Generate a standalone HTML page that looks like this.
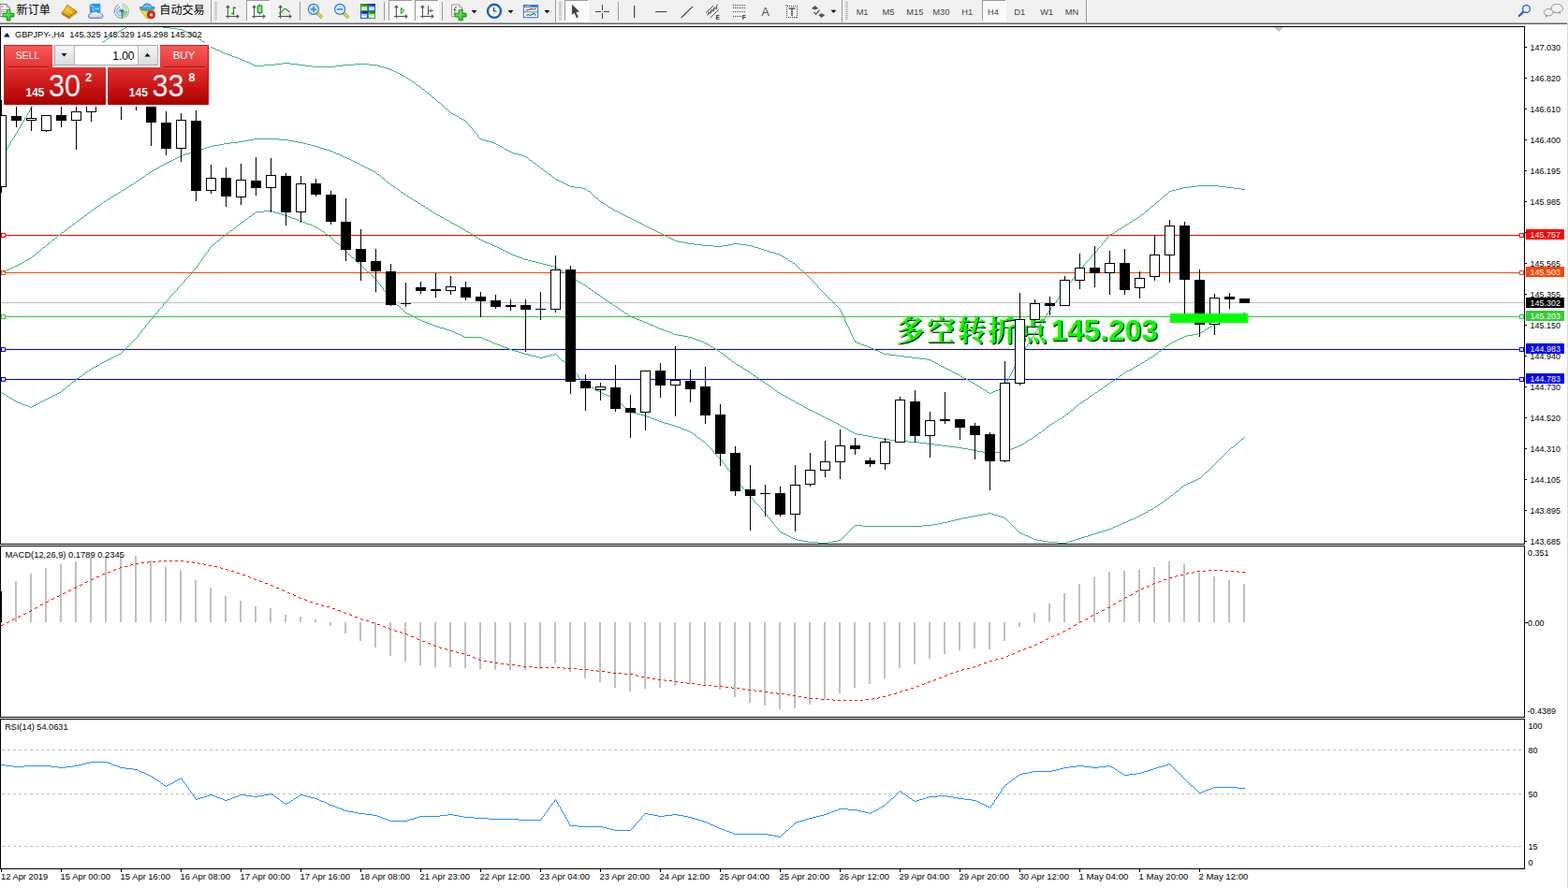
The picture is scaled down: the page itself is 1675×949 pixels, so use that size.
<!DOCTYPE html>
<html><head><meta charset="utf-8"><title>GBPJPY H4</title>
<style>
html,body{margin:0;padding:0;background:#fff}
body{width:1675px;height:949px;overflow:hidden;position:relative;font-family:"Liberation Sans",sans-serif}
svg{position:absolute;left:0;top:0;display:block}
text{font-family:"Liberation Sans",sans-serif}
.ax{font-size:9px;fill:#000}
.tag{font-size:9px;fill:#fff}
.tf{font-size:9.3px;fill:#444}
</style></head><body>
<svg width="1675" height="949" viewBox="0 0 1675 949">
<defs>
<clipPath id="cm"><rect x="1" y="29" width="1627" height="552"/></clipPath>
<clipPath id="cc"><rect x="1" y="114" width="1627" height="467"/></clipPath>
<linearGradient id="gSell" x1="0" y1="0" x2="0" y2="1"><stop offset="0" stop-color="#f85a5a"/><stop offset="1" stop-color="#e43434"/></linearGradient>
<linearGradient id="gBig" x1="0" y1="0" x2="0" y2="1"><stop offset="0" stop-color="#e23030"/><stop offset="0.55" stop-color="#c81414"/><stop offset="1" stop-color="#a80000"/></linearGradient>
<linearGradient id="gBtn" x1="0" y1="0" x2="0" y2="1"><stop offset="0" stop-color="#f4f4f4"/><stop offset="1" stop-color="#dcdcdc"/></linearGradient>
</defs>
<rect x="0" y="0" width="1675" height="949" fill="#fff"/>

<g shape-rendering="crispEdges">
<rect x="0" y="0" width="1675" height="24" fill="#f0f0f0"/>
<rect x="0" y="24" width="1674" height="1" fill="#a8a8a8"/>
<rect x="0" y="25" width="1674" height="1" fill="#6a6a6a"/>
<rect x="1674" y="24" width="1" height="925" fill="#dcdcdc"/>
</g>
<g clip-path="url(#cm)">
<text x="958.35" y="365.30" font-size="30.4px" font-weight="bold" fill="#000" letter-spacing="2.3" style="font-family:'Liberation Serif','Noto Serif CJK SC',serif">多空转折点</text>
<text x="1123.50" y="364.60" font-size="32px" font-weight="bold" fill="#000" textLength="114.4" lengthAdjust="spacingAndGlyphs">145.203</text>
<text x="957.25" y="364.20" font-size="30.4px" font-weight="bold" fill="#00ff00" letter-spacing="2.3" style="font-family:'Liberation Serif','Noto Serif CJK SC',serif">多空转折点</text>
<text x="1122.40" y="363.50" font-size="32px" font-weight="bold" fill="#00ff00" textLength="114.4" lengthAdjust="spacingAndGlyphs">145.203</text>
<g shape-rendering="crispEdges">
<rect x="1" y="251" width="1627" height="1" fill="#ff0000"/>
<rect x="1.5" y="249.5" width="4" height="4" fill="#fff" stroke="#ff0000" stroke-width="1"/>
<rect x="1623.5" y="249.5" width="4" height="4" fill="#fff" stroke="#ff0000" stroke-width="1"/>
<rect x="1" y="291" width="1627" height="1" fill="#ff4500"/>
<rect x="1.5" y="289.5" width="4" height="4" fill="#fff" stroke="#ff4500" stroke-width="1"/>
<rect x="1623.5" y="289.5" width="4" height="4" fill="#fff" stroke="#ff4500" stroke-width="1"/>
<rect x="1" y="323" width="1627" height="1" fill="#c0c0c0"/>
<rect x="1" y="338" width="1627" height="1" fill="#32cd32"/>
<rect x="1.5" y="336.5" width="4" height="4" fill="#fff" stroke="#32cd32" stroke-width="1"/>
<rect x="1623.5" y="336.5" width="4" height="4" fill="#fff" stroke="#32cd32" stroke-width="1"/>
<rect x="1" y="373" width="1627" height="1" fill="#0000ff"/>
<rect x="1.5" y="371.5" width="4" height="4" fill="#fff" stroke="#0000ff" stroke-width="1"/>
<rect x="1623.5" y="371.5" width="4" height="4" fill="#fff" stroke="#0000ff" stroke-width="1"/>
<rect x="1" y="405" width="1627" height="1" fill="#0000ff"/>
<rect x="1.5" y="403.5" width="4" height="4" fill="#fff" stroke="#0000ff" stroke-width="1"/>
<rect x="1623.5" y="403.5" width="4" height="4" fill="#fff" stroke="#0000ff" stroke-width="1"/>
</g>
<path d="M134 29h1v1h-1zM174 29h8v1h-8zM132 30h2v1h-2zM182 30h8v1h-8zM130 31h2v1h-2zM190 31h5v1h-5zM129 32h1v1h-1zM195 32h2v1h-2zM127 33h2v1h-2zM197 33h2v1h-2zM126 34h1v1h-1zM199 34h2v1h-2zM124 35h2v1h-2zM201 35h2v1h-2zM122 36h2v1h-2zM203 36h2v1h-2zM121 37h1v1h-1zM205 37h2v1h-2zM119 38h2v1h-2zM207 38h2v1h-2zM118 39h1v1h-1zM209 39h1v1h-1zM116 40h2v1h-2zM210 40h2v1h-2zM114 41h2v1h-2zM212 41h1v1h-1zM113 42h1v1h-1zM213 42h2v1h-2zM112 43h1v1h-1zM215 43h1v1h-1zM110 44h2v1h-2zM216 44h2v1h-2zM109 45h1v1h-1zM218 45h1v1h-1zM108 46h1v1h-1zM219 46h1v1h-1zM106 47h2v1h-2zM220 47h2v1h-2zM105 48h1v1h-1zM222 48h1v1h-1zM104 49h1v1h-1zM223 49h2v1h-2zM102 50h2v1h-2zM225 50h2v1h-2zM101 51h1v1h-1zM227 51h2v1h-2zM100 52h1v1h-1zM229 52h2v1h-2zM98 53h2v1h-2zM231 53h3v1h-3zM97 54h1v1h-1zM234 54h2v1h-2zM96 55h1v1h-1zM236 55h2v1h-2zM94 56h2v1h-2zM238 56h2v1h-2zM93 57h1v1h-1zM240 57h3v1h-3zM92 58h1v1h-1zM243 58h3v1h-3zM90 59h2v1h-2zM246 59h2v1h-2zM89 60h1v1h-1zM248 60h3v1h-3zM88 61h1v1h-1zM251 61h3v1h-3zM86 62h2v1h-2zM254 62h2v1h-2zM85 63h1v1h-1zM256 63h3v1h-3zM84 64h1v1h-1zM259 64h2v1h-2zM82 65h2v1h-2zM261 65h2v1h-2zM81 66h1v1h-1zM263 66h3v1h-3zM80 67h1v1h-1zM266 67h2v1h-2zM302 67h8v1h-8zM79 68h1v1h-1zM268 68h2v1h-2zM294 68h8v1h-8zM310 68h8v1h-8zM378 68h16v1h-16zM78 69h1v1h-1zM270 69h2v1h-2zM282 69h12v1h-12zM318 69h8v1h-8zM366 69h12v1h-12zM394 69h9v1h-9zM76 70h2v1h-2zM272 70h10v1h-10zM326 70h8v1h-8zM358 70h8v1h-8zM403 70h3v1h-3zM75 71h1v1h-1zM334 71h24v1h-24zM406 71h4v1h-4zM74 72h1v1h-1zM410 72h3v1h-3zM73 73h1v1h-1zM413 73h3v1h-3zM72 74h1v1h-1zM416 74h3v1h-3zM71 75h1v1h-1zM419 75h2v1h-2zM70 76h1v1h-1zM421 76h2v1h-2zM68 77h2v1h-2zM423 77h2v1h-2zM67 78h1v1h-1zM425 78h2v1h-2zM66 79h1v1h-1zM427 79h2v1h-2zM65 80h1v1h-1zM429 80h2v1h-2zM64 81h1v1h-1zM431 81h2v1h-2zM63 82h1v1h-1zM433 82h1v1h-1zM62 83h1v1h-1zM434 83h2v1h-2zM61 84h1v1h-1zM436 84h1v1h-1zM60 85h1v1h-1zM437 85h2v1h-2zM59 86h1v1h-1zM439 86h1v1h-1zM58 87h1v1h-1zM440 87h2v1h-2zM57 88h1v1h-1zM442 88h1v1h-1zM56 89h1v1h-1zM443 89h1v1h-1zM55 90h1v1h-1zM444 90h2v1h-2zM54 91h1v1h-1zM446 91h1v1h-1zM53 92h1v1h-1zM447 92h2v1h-2zM52 93h1v1h-1zM449 93h1v1h-1zM51 94h1v1h-1zM450 94h1v1h-1zM50 95h1v1h-1zM451 95h2v1h-2zM49 96h1v1h-1zM453 96h1v1h-1zM48 97h1v1h-1zM454 97h1v1h-1zM47 98h1v1h-1zM455 98h1v1h-1zM46 99h1v2h-1zM456 99h2v1h-2zM458 100h1v1h-1zM45 101h1v1h-1zM459 101h1v1h-1zM44 102h1v1h-1zM460 102h1v1h-1zM43 103h1v1h-1zM461 103h1v1h-1zM42 104h1v1h-1zM462 104h2v1h-2zM41 105h1v2h-1zM464 105h1v1h-1zM465 106h1v1h-1zM40 107h1v1h-1zM466 107h1v1h-1zM39 108h1v1h-1zM467 108h1v1h-1zM38 109h1v1h-1zM468 109h2v1h-2zM37 110h1v1h-1zM470 110h1v1h-1zM36 111h1v2h-1zM471 111h1v1h-1zM472 112h1v1h-1zM35 113h1v1h-1zM473 113h1v1h-1zM34 114h1v1h-1zM474 114h1v1h-1zM33 115h1v1h-1zM475 115h1v1h-1zM32 116h1v2h-1zM476 116h2v1h-2zM478 117h1v1h-1zM31 118h1v2h-1zM479 118h1v1h-1zM480 119h1v1h-1zM30 120h1v1h-1zM481 120h1v1h-1zM29 121h1v2h-1zM482 121h2v1h-2zM484 122h2v1h-2zM28 123h1v2h-1zM486 123h2v1h-2zM488 124h2v1h-2zM27 125h1v1h-1zM490 125h1v1h-1zM26 126h1v2h-1zM491 126h2v1h-2zM493 127h2v1h-2zM25 128h1v2h-1zM495 128h2v1h-2zM497 129h1v1h-1zM24 130h1v2h-1zM498 130h1v1h-1zM499 131h1v1h-1zM23 132h1v1h-1zM500 132h1v2h-1zM22 133h1v2h-1zM501 134h1v1h-1zM21 135h1v2h-1zM502 135h1v1h-1zM503 136h1v1h-1zM20 137h1v1h-1zM504 137h1v1h-1zM19 138h1v2h-1zM505 138h1v2h-1zM18 140h1v2h-1zM506 140h1v1h-1zM507 141h1v1h-1zM17 142h1v1h-1zM508 142h1v1h-1zM16 143h1v2h-1zM509 143h1v1h-1zM510 144h1v2h-1zM15 145h1v2h-1zM511 146h1v1h-1zM14 147h1v1h-1zM512 147h1v1h-1zM13 148h1v2h-1zM513 148h2v1h-2zM515 149h3v1h-3zM12 150h1v1h-1zM518 150h4v1h-4zM11 151h1v2h-1zM522 151h3v1h-3zM525 152h3v1h-3zM10 153h1v2h-1zM528 153h2v1h-2zM530 154h2v1h-2zM9 155h1v1h-1zM532 155h2v1h-2zM8 156h1v2h-1zM534 156h2v1h-2zM536 157h2v1h-2zM7 158h1v2h-1zM538 158h1v1h-1zM539 159h2v1h-2zM6 160h1v1h-1zM541 160h2v1h-2zM5 161h1v2h-1zM543 161h2v1h-2zM545 162h2v1h-2zM4 163h1v1h-1zM547 163h3v1h-3zM3 164h1v2h-1zM550 164h4v1h-4zM554 165h3v1h-3zM2 166h1v2h-1zM557 166h3v1h-3zM560 167h2v1h-2zM1 168h1v1h-1zM562 168h2v1h-2zM564 169h1v1h-1zM565 170h1v1h-1zM566 171h2v1h-2zM568 172h1v1h-1zM569 173h1v1h-1zM570 174h2v1h-2zM572 175h1v1h-1zM573 176h1v1h-1zM574 177h2v1h-2zM576 178h1v1h-1zM577 179h1v1h-1zM578 180h2v1h-2zM580 181h1v1h-1zM581 182h1v1h-1zM582 183h2v1h-2zM584 184h1v1h-1zM585 185h1v1h-1zM586 186h2v1h-2zM588 187h1v1h-1zM589 188h1v1h-1zM590 189h2v1h-2zM592 190h1v1h-1zM593 191h2v1h-2zM595 192h2v1h-2zM597 193h2v1h-2zM599 194h2v1h-2zM601 195h2v1h-2zM603 196h2v1h-2zM605 197h2v1h-2zM607 198h2v1h-2zM1278 198h24v1h-24zM609 199h5v1h-5zM1270 199h8v1h-8zM1302 199h8v1h-8zM614 200h8v1h-8zM1264 200h6v1h-6zM1310 200h8v1h-8zM622 201h4v1h-4zM1260 201h4v1h-4zM1318 201h8v1h-8zM626 202h1v1h-1zM1256 202h4v1h-4zM1326 202h4v1h-4zM627 203h1v1h-1zM1252 203h4v1h-4zM628 204h2v1h-2zM1249 204h3v1h-3zM630 205h1v1h-1zM1248 205h1v1h-1zM631 206h1v1h-1zM1247 206h1v1h-1zM632 207h1v1h-1zM1246 207h1v1h-1zM633 208h1v1h-1zM1244 208h2v1h-2zM634 209h1v1h-1zM1243 209h1v1h-1zM635 210h1v1h-1zM1242 210h1v1h-1zM636 211h2v1h-2zM1241 211h1v1h-1zM638 212h1v1h-1zM1240 212h1v1h-1zM639 213h1v1h-1zM1239 213h1v1h-1zM640 214h1v1h-1zM1238 214h1v1h-1zM641 215h1v1h-1zM1236 215h2v1h-2zM642 216h2v1h-2zM1235 216h1v1h-1zM644 217h2v1h-2zM1234 217h1v1h-1zM646 218h1v1h-1zM1233 218h1v1h-1zM647 219h2v1h-2zM1232 219h1v1h-1zM649 220h1v1h-1zM1230 220h2v1h-2zM650 221h2v1h-2zM1229 221h1v1h-1zM652 222h2v1h-2zM1228 222h1v1h-1zM654 223h1v1h-1zM1227 223h1v1h-1zM655 224h2v1h-2zM1226 224h1v1h-1zM657 225h2v1h-2zM1224 225h2v1h-2zM659 226h2v1h-2zM1223 226h1v1h-1zM661 227h2v1h-2zM1222 227h1v1h-1zM663 228h2v1h-2zM1221 228h1v1h-1zM665 229h2v1h-2zM1219 229h2v1h-2zM667 230h2v1h-2zM1218 230h1v1h-1zM669 231h2v1h-2zM1217 231h1v1h-1zM671 232h2v1h-2zM1215 232h2v1h-2zM673 233h2v1h-2zM1214 233h1v1h-1zM675 234h2v1h-2zM1212 234h2v1h-2zM677 235h2v1h-2zM1210 235h2v1h-2zM679 236h2v1h-2zM1209 236h1v1h-1zM681 237h2v1h-2zM1207 237h2v1h-2zM683 238h2v1h-2zM1206 238h1v1h-1zM685 239h2v1h-2zM1204 239h2v1h-2zM687 240h2v1h-2zM1202 240h2v1h-2zM689 241h2v1h-2zM1201 241h1v1h-1zM691 242h2v1h-2zM1199 242h2v1h-2zM693 243h2v1h-2zM1198 243h1v1h-1zM695 244h2v1h-2zM1196 244h2v1h-2zM697 245h2v1h-2zM1194 245h2v1h-2zM699 246h2v1h-2zM1193 246h1v1h-1zM701 247h2v1h-2zM1191 247h2v1h-2zM703 248h2v1h-2zM1190 248h1v1h-1zM705 249h2v1h-2zM1188 249h2v1h-2zM707 250h2v1h-2zM1186 250h2v1h-2zM709 251h2v1h-2zM1185 251h1v1h-1zM711 252h2v1h-2zM1184 252h1v1h-1zM713 253h2v1h-2zM1183 253h1v1h-1zM715 254h2v1h-2zM1182 254h1v2h-1zM717 255h2v1h-2zM719 256h2v1h-2zM1181 256h1v1h-1zM721 257h3v1h-3zM1180 257h1v1h-1zM724 258h6v1h-6zM1179 258h1v1h-1zM730 259h5v1h-5zM1178 259h1v1h-1zM735 260h7v1h-7zM783 260h7v1h-7zM1177 260h1v2h-1zM742 261h8v1h-8zM778 261h5v1h-5zM790 261h8v1h-8zM750 262h12v1h-12zM772 262h6v1h-6zM798 262h5v1h-5zM1176 262h1v1h-1zM762 263h10v1h-10zM803 263h3v1h-3zM1175 263h1v1h-1zM806 264h4v1h-4zM1174 264h1v1h-1zM810 265h3v1h-3zM1173 265h1v1h-1zM813 266h3v1h-3zM1172 266h1v2h-1zM816 267h3v1h-3zM819 268h3v1h-3zM1171 268h1v1h-1zM822 269h4v1h-4zM1170 269h1v1h-1zM826 270h3v1h-3zM1169 270h1v1h-1zM829 271h3v1h-3zM1168 271h1v1h-1zM832 272h2v1h-2zM1167 272h1v1h-1zM834 273h2v1h-2zM1166 273h1v1h-1zM836 274h2v1h-2zM1165 274h1v2h-1zM838 275h1v1h-1zM839 276h2v1h-2zM1164 276h1v1h-1zM841 277h1v1h-1zM1163 277h1v1h-1zM842 278h2v1h-2zM1162 278h1v1h-1zM844 279h2v1h-2zM1161 279h1v1h-1zM846 280h1v1h-1zM1160 280h1v1h-1zM847 281h2v1h-2zM1159 281h1v1h-1zM849 282h1v1h-1zM1158 282h1v1h-1zM850 283h1v1h-1zM1157 283h1v2h-1zM851 284h1v1h-1zM852 285h1v1h-1zM1156 285h1v1h-1zM853 286h1v1h-1zM1155 286h1v1h-1zM854 287h1v1h-1zM1154 287h1v1h-1zM855 288h1v1h-1zM1153 288h1v1h-1zM856 289h2v1h-2zM1152 289h1v1h-1zM858 290h1v1h-1zM1151 290h1v2h-1zM859 291h1v1h-1zM860 292h1v1h-1zM1150 292h1v1h-1zM861 293h1v1h-1zM1149 293h1v1h-1zM862 294h1v1h-1zM1148 294h1v2h-1zM863 295h1v1h-1zM864 296h1v1h-1zM1147 296h1v1h-1zM865 297h1v1h-1zM1146 297h1v1h-1zM866 298h1v1h-1zM1145 298h1v2h-1zM867 299h1v1h-1zM868 300h1v1h-1zM1144 300h1v1h-1zM869 301h1v1h-1zM1143 301h1v1h-1zM870 302h1v1h-1zM1142 302h1v2h-1zM871 303h1v1h-1zM872 304h1v1h-1zM1141 304h1v1h-1zM873 305h1v2h-1zM1140 305h1v1h-1zM1139 306h1v2h-1zM874 307h1v1h-1zM875 308h1v1h-1zM1138 308h1v1h-1zM876 309h1v1h-1zM1137 309h1v1h-1zM877 310h1v1h-1zM1136 310h1v2h-1zM878 311h1v1h-1zM879 312h1v1h-1zM1135 312h1v1h-1zM880 313h1v1h-1zM1134 313h1v1h-1zM881 314h1v1h-1zM1133 314h1v2h-1zM882 315h1v1h-1zM883 316h1v1h-1zM1132 316h1v1h-1zM884 317h1v1h-1zM1131 317h1v1h-1zM885 318h1v1h-1zM1130 318h1v2h-1zM886 319h1v1h-1zM887 320h1v1h-1zM1129 320h1v1h-1zM888 321h1v1h-1zM1128 321h1v2h-1zM889 322h1v1h-1zM890 323h1v1h-1zM1127 323h1v1h-1zM891 324h1v1h-1zM1126 324h1v1h-1zM892 325h1v1h-1zM1125 325h1v2h-1zM893 326h1v1h-1zM894 327h1v1h-1zM1124 327h1v1h-1zM895 328h1v1h-1zM1123 328h1v1h-1zM896 329h1v1h-1zM1122 329h1v2h-1zM897 330h1v2h-1zM1121 331h1v1h-1zM898 332h1v2h-1zM1120 332h1v2h-1zM899 334h1v2h-1zM1119 334h1v1h-1zM1118 335h1v2h-1zM900 336h1v2h-1zM1117 337h1v2h-1zM901 338h1v2h-1zM1116 339h1v1h-1zM902 340h1v3h-1zM1115 340h1v2h-1zM1114 342h1v1h-1zM903 343h1v2h-1zM1113 343h1v2h-1zM904 345h1v2h-1zM1112 345h1v1h-1zM1111 346h1v2h-1zM905 347h1v2h-1zM1110 348h1v1h-1zM906 349h1v2h-1zM1109 349h1v2h-1zM907 351h1v2h-1zM1108 351h1v2h-1zM908 353h1v3h-1zM1107 353h1v1h-1zM1106 354h1v2h-1zM909 356h1v2h-1zM1105 356h1v1h-1zM1104 357h1v2h-1zM910 358h1v2h-1zM1103 359h1v1h-1zM911 360h1v2h-1zM1102 360h1v2h-1zM912 362h1v2h-1zM1101 362h1v2h-1zM913 364h1v2h-1zM1100 364h1v1h-1zM914 365h1v1h-1zM1099 365h1v2h-1zM915 366h3v1h-3zM918 367h2v1h-2zM1098 367h1v1h-1zM920 368h3v1h-3zM1097 368h1v2h-1zM923 369h3v1h-3zM926 370h2v1h-2zM1096 370h1v1h-1zM928 371h3v1h-3zM1095 371h1v2h-1zM931 372h2v1h-2zM933 373h2v1h-2zM1094 373h1v1h-1zM935 374h3v1h-3zM1093 374h1v2h-1zM938 375h2v1h-2zM940 376h2v1h-2zM1092 376h1v2h-1zM942 377h2v1h-2zM944 378h6v1h-6zM1091 378h1v1h-1zM950 379h8v1h-8zM1090 379h1v2h-1zM958 380h8v1h-8zM966 381h8v1h-8zM1089 381h1v1h-1zM974 382h8v1h-8zM1088 382h1v2h-1zM982 383h8v1h-8zM990 384h4v1h-4zM1087 384h1v2h-1zM994 385h2v1h-2zM996 386h2v1h-2zM1086 386h1v2h-1zM998 387h2v1h-2zM1000 388h2v1h-2zM1085 388h1v2h-1zM1002 389h1v1h-1zM1003 390h2v1h-2zM1084 390h1v2h-1zM1005 391h2v1h-2zM1007 392h2v1h-2zM1083 392h1v2h-1zM1009 393h2v1h-2zM1011 394h2v1h-2zM1082 394h1v2h-1zM1013 395h2v1h-2zM1015 396h2v1h-2zM1081 396h1v2h-1zM1017 397h2v1h-2zM1019 398h2v1h-2zM1080 398h1v2h-1zM1021 399h2v1h-2zM1023 400h2v1h-2zM1079 400h1v2h-1zM1025 401h1v1h-1zM1026 402h2v1h-2zM1078 402h1v2h-1zM1028 403h2v1h-2zM1030 404h2v1h-2zM1077 404h1v2h-1zM1032 405h2v1h-2zM1034 406h1v1h-1zM1076 406h1v2h-1zM1035 407h2v1h-2zM1037 408h2v1h-2zM1075 408h1v2h-1zM1039 409h2v1h-2zM1041 410h1v1h-1zM1074 410h1v2h-1zM1042 411h2v1h-2zM1044 412h2v1h-2zM1073 412h1v2h-1zM1046 413h1v1h-1zM1072 413h1v1h-1zM1047 414h2v1h-2zM1070 414h2v1h-2zM1049 415h1v1h-1zM1068 415h2v1h-2zM1050 416h2v1h-2zM1066 416h2v1h-2zM1052 417h2v1h-2zM1063 417h3v1h-3zM1054 418h1v1h-1zM1061 418h2v1h-2zM1055 419h2v1h-2zM1059 419h2v1h-2zM1057 420h2v1h-2z" fill="#3cb371" shape-rendering="crispEdges"/>
<path d="M271 148h27v1h-27zM266 149h5v1h-5zM298 149h10v1h-10zM260 150h6v1h-6zM308 150h6v1h-6zM254 151h6v1h-6zM314 151h5v1h-5zM246 152h8v1h-8zM319 152h5v1h-5zM239 153h7v1h-7zM324 153h4v1h-4zM234 154h5v1h-5zM328 154h4v1h-4zM228 155h6v1h-6zM332 155h4v1h-4zM224 156h4v1h-4zM336 156h3v1h-3zM221 157h3v1h-3zM339 157h3v1h-3zM218 158h3v1h-3zM342 158h4v1h-4zM214 159h4v1h-4zM346 159h3v1h-3zM211 160h3v1h-3zM349 160h3v1h-3zM208 161h3v1h-3zM352 161h3v1h-3zM205 162h3v1h-3zM355 162h2v1h-2zM202 163h3v1h-3zM357 163h2v1h-2zM198 164h4v1h-4zM359 164h3v1h-3zM195 165h3v1h-3zM362 165h2v1h-2zM193 166h2v1h-2zM364 166h2v1h-2zM191 167h2v1h-2zM366 167h2v1h-2zM189 168h2v1h-2zM368 168h3v1h-3zM187 169h2v1h-2zM371 169h2v1h-2zM185 170h2v1h-2zM373 170h2v1h-2zM183 171h2v1h-2zM375 171h2v1h-2zM181 172h2v1h-2zM377 172h2v1h-2zM179 173h2v1h-2zM379 173h2v1h-2zM177 174h2v1h-2zM381 174h2v1h-2zM175 175h2v1h-2zM383 175h2v1h-2zM173 176h2v1h-2zM385 176h2v1h-2zM171 177h2v1h-2zM387 177h2v1h-2zM170 178h1v1h-1zM389 178h2v1h-2zM168 179h2v1h-2zM391 179h2v1h-2zM166 180h2v1h-2zM393 180h2v1h-2zM164 181h2v1h-2zM395 181h2v1h-2zM162 182h2v1h-2zM397 182h2v1h-2zM161 183h1v1h-1zM399 183h2v1h-2zM159 184h2v1h-2zM401 184h1v1h-1zM158 185h1v1h-1zM402 185h1v1h-1zM156 186h2v1h-2zM403 186h2v1h-2zM155 187h1v1h-1zM405 187h1v1h-1zM154 188h1v1h-1zM406 188h1v1h-1zM152 189h2v1h-2zM407 189h1v1h-1zM151 190h1v1h-1zM408 190h2v1h-2zM149 191h2v1h-2zM410 191h1v1h-1zM148 192h1v1h-1zM411 192h1v1h-1zM146 193h2v1h-2zM412 193h1v1h-1zM145 194h1v1h-1zM413 194h1v1h-1zM143 195h2v1h-2zM414 195h2v1h-2zM142 196h1v1h-1zM416 196h1v1h-1zM140 197h2v1h-2zM417 197h1v1h-1zM138 198h2v1h-2zM418 198h2v1h-2zM137 199h1v1h-1zM420 199h1v1h-1zM135 200h2v1h-2zM421 200h2v1h-2zM134 201h1v1h-1zM423 201h1v1h-1zM132 202h2v1h-2zM424 202h2v1h-2zM130 203h2v1h-2zM426 203h1v1h-1zM129 204h1v1h-1zM427 204h1v1h-1zM127 205h2v1h-2zM428 205h2v1h-2zM126 206h1v1h-1zM430 206h1v1h-1zM124 207h2v1h-2zM431 207h2v1h-2zM122 208h2v1h-2zM433 208h1v1h-1zM121 209h1v1h-1zM434 209h2v1h-2zM119 210h2v1h-2zM436 210h2v1h-2zM118 211h1v1h-1zM438 211h1v1h-1zM116 212h2v1h-2zM439 212h2v1h-2zM114 213h2v1h-2zM441 213h1v1h-1zM113 214h1v1h-1zM442 214h2v1h-2zM111 215h2v1h-2zM444 215h2v1h-2zM110 216h1v1h-1zM446 216h1v1h-1zM108 217h2v1h-2zM447 217h2v1h-2zM107 218h1v1h-1zM449 218h1v1h-1zM106 219h1v1h-1zM450 219h2v1h-2zM104 220h2v1h-2zM452 220h2v1h-2zM103 221h1v1h-1zM454 221h1v1h-1zM101 222h2v1h-2zM455 222h2v1h-2zM100 223h1v1h-1zM457 223h1v1h-1zM98 224h2v1h-2zM458 224h2v1h-2zM97 225h1v1h-1zM460 225h2v1h-2zM96 226h1v1h-1zM462 226h1v1h-1zM94 227h2v1h-2zM463 227h2v1h-2zM93 228h1v1h-1zM465 228h1v1h-1zM92 229h1v1h-1zM466 229h2v1h-2zM90 230h2v1h-2zM468 230h2v1h-2zM89 231h1v1h-1zM470 231h2v1h-2zM88 232h1v1h-1zM472 232h2v1h-2zM86 233h2v1h-2zM474 233h1v1h-1zM85 234h1v1h-1zM475 234h2v1h-2zM84 235h1v1h-1zM477 235h2v1h-2zM82 236h2v1h-2zM479 236h2v1h-2zM81 237h1v1h-1zM481 237h1v1h-1zM80 238h1v1h-1zM482 238h2v1h-2zM78 239h2v1h-2zM484 239h2v1h-2zM77 240h1v1h-1zM486 240h2v1h-2zM76 241h1v1h-1zM488 241h2v1h-2zM74 242h2v1h-2zM490 242h1v1h-1zM73 243h1v1h-1zM491 243h2v1h-2zM72 244h1v1h-1zM493 244h2v1h-2zM70 245h2v1h-2zM495 245h2v1h-2zM69 246h1v1h-1zM497 246h1v1h-1zM68 247h1v1h-1zM498 247h2v1h-2zM66 248h2v1h-2zM500 248h2v1h-2zM65 249h1v1h-1zM502 249h1v1h-1zM64 250h1v1h-1zM503 250h2v1h-2zM62 251h2v1h-2zM505 251h1v1h-1zM61 252h1v1h-1zM506 252h2v1h-2zM60 253h1v1h-1zM508 253h2v1h-2zM59 254h1v1h-1zM510 254h1v1h-1zM58 255h1v1h-1zM511 255h2v1h-2zM56 256h2v1h-2zM513 256h2v1h-2zM55 257h1v1h-1zM515 257h2v1h-2zM54 258h1v1h-1zM517 258h2v1h-2zM53 259h1v1h-1zM519 259h3v1h-3zM51 260h2v1h-2zM522 260h2v1h-2zM50 261h1v1h-1zM524 261h2v1h-2zM49 262h1v1h-1zM526 262h2v1h-2zM48 263h1v1h-1zM528 263h3v1h-3zM46 264h2v1h-2zM531 264h2v1h-2zM45 265h1v1h-1zM533 265h2v1h-2zM44 266h1v1h-1zM535 266h2v1h-2zM43 267h1v1h-1zM537 267h2v1h-2zM42 268h1v1h-1zM539 268h2v1h-2zM40 269h2v1h-2zM541 269h2v1h-2zM39 270h1v1h-1zM543 270h2v1h-2zM38 271h1v1h-1zM545 271h2v1h-2zM37 272h1v1h-1zM547 272h3v1h-3zM35 273h2v1h-2zM550 273h2v1h-2zM34 274h1v1h-1zM552 274h3v1h-3zM33 275h1v1h-1zM555 275h3v1h-3zM31 276h2v1h-2zM558 276h2v1h-2zM29 277h2v1h-2zM560 277h4v1h-4zM27 278h2v1h-2zM564 278h4v1h-4zM26 279h1v1h-1zM568 279h4v1h-4zM24 280h2v1h-2zM572 280h4v1h-4zM22 281h2v1h-2zM576 281h4v1h-4zM20 282h2v1h-2zM580 282h4v1h-4zM18 283h2v1h-2zM584 283h4v1h-4zM16 284h2v1h-2zM588 284h4v1h-4zM14 285h2v1h-2zM592 285h2v1h-2zM12 286h2v1h-2zM594 286h2v1h-2zM10 287h2v1h-2zM596 287h2v1h-2zM7 288h3v1h-3zM598 288h1v1h-1zM5 289h2v1h-2zM599 289h2v1h-2zM3 290h2v1h-2zM601 290h1v1h-1zM1 291h2v1h-2zM602 291h2v1h-2zM604 292h2v1h-2zM606 293h1v1h-1zM607 294h2v1h-2zM609 295h1v1h-1zM610 296h2v1h-2zM612 297h2v1h-2zM614 298h1v1h-1zM615 299h2v1h-2zM617 300h1v1h-1zM618 301h2v1h-2zM620 302h2v1h-2zM622 303h1v1h-1zM623 304h2v1h-2zM625 305h1v1h-1zM626 306h2v1h-2zM628 307h1v1h-1zM629 308h2v1h-2zM631 309h1v1h-1zM632 310h2v1h-2zM634 311h1v1h-1zM635 312h1v1h-1zM636 313h2v1h-2zM638 314h1v1h-1zM639 315h2v1h-2zM641 316h1v1h-1zM642 317h2v1h-2zM644 318h1v1h-1zM645 319h2v1h-2zM647 320h1v1h-1zM648 321h2v1h-2zM650 322h1v1h-1zM651 323h1v1h-1zM652 324h2v1h-2zM654 325h1v1h-1zM655 326h2v1h-2zM657 327h1v1h-1zM658 328h2v1h-2zM660 329h1v1h-1zM661 330h2v1h-2zM663 331h1v1h-1zM664 332h2v1h-2zM666 333h1v1h-1zM667 334h1v1h-1zM1328 334h2v1h-2zM668 335h2v1h-2zM1326 335h2v1h-2zM670 336h1v1h-1zM1323 336h3v1h-3zM671 337h2v1h-2zM1320 337h3v1h-3zM673 338h2v1h-2zM1318 338h2v1h-2zM675 339h3v1h-3zM1315 339h3v1h-3zM678 340h2v1h-2zM1312 340h3v1h-3zM680 341h3v1h-3zM1310 341h2v1h-2zM683 342h3v1h-3zM1307 342h3v1h-3zM686 343h2v1h-2zM1304 343h3v1h-3zM688 344h3v1h-3zM1302 344h2v1h-2zM691 345h2v1h-2zM1299 345h3v1h-3zM693 346h2v1h-2zM1297 346h2v1h-2zM695 347h3v1h-3zM1295 347h2v1h-2zM698 348h2v1h-2zM1294 348h1v1h-1zM700 349h2v1h-2zM1292 349h2v1h-2zM702 350h2v1h-2zM1290 350h2v1h-2zM704 351h3v1h-3zM1289 351h1v1h-1zM707 352h3v1h-3zM1287 352h2v1h-2zM710 353h2v1h-2zM1286 353h1v1h-1zM712 354h3v1h-3zM1284 354h2v1h-2zM715 355h3v1h-3zM1282 355h2v1h-2zM718 356h2v1h-2zM1279 356h3v1h-3zM720 357h4v1h-4zM1274 357h5v1h-5zM724 358h6v1h-6zM1268 358h6v1h-6zM730 359h5v1h-5zM1265 359h3v1h-3zM735 360h4v1h-4zM1263 360h2v1h-2zM739 361h3v1h-3zM1261 361h2v1h-2zM742 362h2v1h-2zM1259 362h2v1h-2zM744 363h3v1h-3zM1257 363h2v1h-2zM747 364h3v1h-3zM1255 364h2v1h-2zM750 365h2v1h-2zM1253 365h2v1h-2zM752 366h2v1h-2zM1251 366h2v1h-2zM754 367h2v1h-2zM1249 367h2v1h-2zM756 368h2v1h-2zM1248 368h1v1h-1zM758 369h1v1h-1zM1246 369h2v1h-2zM759 370h2v1h-2zM1245 370h1v1h-1zM761 371h1v1h-1zM1244 371h1v1h-1zM762 372h2v1h-2zM1242 372h2v1h-2zM764 373h2v1h-2zM1241 373h1v1h-1zM766 374h1v1h-1zM1240 374h1v1h-1zM767 375h2v1h-2zM1238 375h2v1h-2zM769 376h1v1h-1zM1237 376h1v1h-1zM770 377h2v1h-2zM1236 377h1v1h-1zM772 378h1v1h-1zM1234 378h2v1h-2zM773 379h1v1h-1zM1233 379h1v1h-1zM774 380h2v1h-2zM1231 380h2v1h-2zM776 381h1v1h-1zM1230 381h1v1h-1zM777 382h1v1h-1zM1228 382h2v1h-2zM778 383h2v1h-2zM1226 383h2v1h-2zM780 384h1v1h-1zM1225 384h1v1h-1zM781 385h1v1h-1zM1223 385h2v1h-2zM782 386h2v1h-2zM1222 386h1v1h-1zM784 387h1v1h-1zM1220 387h2v1h-2zM785 388h1v1h-1zM1218 388h2v1h-2zM786 389h2v1h-2zM1217 389h1v1h-1zM788 390h2v1h-2zM1215 390h2v1h-2zM790 391h1v1h-1zM1213 391h2v1h-2zM791 392h2v1h-2zM1211 392h2v1h-2zM793 393h1v1h-1zM1210 393h1v1h-1zM794 394h2v1h-2zM1208 394h2v1h-2zM796 395h2v1h-2zM1206 395h2v1h-2zM798 396h1v1h-1zM1204 396h2v1h-2zM799 397h2v1h-2zM1202 397h2v1h-2zM801 398h1v1h-1zM1201 398h1v1h-1zM802 399h2v1h-2zM1199 399h2v1h-2zM804 400h1v1h-1zM1198 400h1v1h-1zM805 401h2v1h-2zM1196 401h2v1h-2zM807 402h1v1h-1zM1195 402h1v1h-1zM808 403h2v1h-2zM1194 403h1v1h-1zM810 404h1v1h-1zM1192 404h2v1h-2zM811 405h1v1h-1zM1191 405h1v1h-1zM812 406h2v1h-2zM1189 406h2v1h-2zM814 407h1v1h-1zM1188 407h1v1h-1zM815 408h2v1h-2zM1186 408h2v1h-2zM817 409h1v1h-1zM1185 409h1v1h-1zM818 410h2v1h-2zM1183 410h2v1h-2zM820 411h1v1h-1zM1182 411h1v1h-1zM821 412h2v1h-2zM1180 412h2v1h-2zM823 413h1v1h-1zM1179 413h1v1h-1zM824 414h2v1h-2zM1178 414h1v1h-1zM826 415h1v1h-1zM1176 415h2v1h-2zM827 416h1v1h-1zM1175 416h1v1h-1zM828 417h2v1h-2zM1173 417h2v1h-2zM830 418h1v1h-1zM1172 418h1v1h-1zM831 419h2v1h-2zM1170 419h2v1h-2zM833 420h1v1h-1zM1169 420h1v1h-1zM834 421h2v1h-2zM1167 421h2v1h-2zM836 422h2v1h-2zM1166 422h1v1h-1zM838 423h2v1h-2zM1164 423h2v1h-2zM840 424h2v1h-2zM1163 424h1v1h-1zM842 425h1v1h-1zM1162 425h1v1h-1zM843 426h2v1h-2zM1160 426h2v1h-2zM845 427h2v1h-2zM1159 427h1v1h-1zM847 428h2v1h-2zM1157 428h2v1h-2zM849 429h1v1h-1zM1156 429h1v1h-1zM850 430h2v1h-2zM1154 430h2v1h-2zM852 431h2v1h-2zM1153 431h1v1h-1zM854 432h2v1h-2zM1152 432h1v1h-1zM856 433h2v1h-2zM1150 433h2v1h-2zM858 434h1v1h-1zM1149 434h1v1h-1zM859 435h2v1h-2zM1148 435h1v1h-1zM861 436h2v1h-2zM1147 436h1v1h-1zM863 437h2v1h-2zM1146 437h1v1h-1zM865 438h2v1h-2zM1144 438h2v1h-2zM867 439h2v1h-2zM1143 439h1v1h-1zM869 440h2v1h-2zM1142 440h1v1h-1zM871 441h2v1h-2zM1141 441h1v1h-1zM873 442h2v1h-2zM1139 442h2v1h-2zM875 443h2v1h-2zM1138 443h1v1h-1zM877 444h2v1h-2zM1137 444h1v1h-1zM879 445h2v1h-2zM1135 445h2v1h-2zM881 446h2v1h-2zM1134 446h1v1h-1zM883 447h2v1h-2zM1132 447h2v1h-2zM885 448h2v1h-2zM1130 448h2v1h-2zM887 449h2v1h-2zM1129 449h1v1h-1zM889 450h2v1h-2zM1127 450h2v1h-2zM891 451h2v1h-2zM1126 451h1v1h-1zM893 452h2v1h-2zM1124 452h2v1h-2zM895 453h2v1h-2zM1122 453h2v1h-2zM897 454h1v1h-1zM1121 454h1v1h-1zM898 455h2v1h-2zM1120 455h1v1h-1zM900 456h2v1h-2zM1118 456h2v1h-2zM902 457h2v1h-2zM1117 457h1v1h-1zM904 458h2v1h-2zM1116 458h1v1h-1zM906 459h1v1h-1zM1114 459h2v1h-2zM907 460h2v1h-2zM1113 460h1v1h-1zM909 461h2v1h-2zM1112 461h1v1h-1zM911 462h2v1h-2zM1110 462h2v1h-2zM913 463h3v1h-3zM1109 463h1v1h-1zM916 464h6v1h-6zM1108 464h1v1h-1zM922 465h5v1h-5zM1106 465h2v1h-2zM927 466h5v1h-5zM1105 466h1v1h-1zM932 467h6v1h-6zM1103 467h2v1h-2zM938 468h5v1h-5zM1102 468h1v1h-1zM943 469h7v1h-7zM1100 469h2v1h-2zM950 470h8v1h-8zM1098 470h2v1h-2zM958 471h12v1h-12zM1097 471h1v1h-1zM970 472h12v1h-12zM1095 472h2v1h-2zM982 473h8v1h-8zM1094 473h1v1h-1zM990 474h8v1h-8zM1092 474h2v1h-2zM998 475h8v1h-8zM1090 475h2v1h-2zM1006 476h8v1h-8zM1088 476h2v1h-2zM1014 477h8v1h-8zM1086 477h2v1h-2zM1022 478h6v1h-6zM1083 478h3v1h-3zM1028 479h6v1h-6zM1080 479h3v1h-3zM1034 480h5v1h-5zM1078 480h2v1h-2zM1039 481h5v1h-5zM1075 481h3v1h-3zM1044 482h6v1h-6zM1070 482h5v1h-5zM1050 483h5v1h-5zM1062 483h8v1h-8zM1055 484h7v1h-7z" fill="#3cb371" shape-rendering="crispEdges"/>
<path d="M282 225h9v1h-9zM273 226h9v1h-9zM291 226h3v1h-3zM272 227h1v1h-1zM294 227h4v1h-4zM270 228h2v1h-2zM298 228h3v1h-3zM269 229h1v1h-1zM301 229h3v1h-3zM268 230h1v1h-1zM304 230h3v1h-3zM266 231h2v1h-2zM307 231h3v1h-3zM265 232h1v1h-1zM310 232h2v1h-2zM264 233h1v1h-1zM312 233h3v1h-3zM262 234h2v1h-2zM315 234h3v1h-3zM261 235h1v1h-1zM318 235h2v1h-2zM260 236h1v1h-1zM320 236h3v1h-3zM258 237h2v1h-2zM323 237h3v1h-3zM257 238h1v1h-1zM326 238h2v1h-2zM256 239h1v1h-1zM328 239h3v1h-3zM254 240h2v1h-2zM331 240h3v1h-3zM253 241h1v1h-1zM334 241h2v1h-2zM252 242h1v1h-1zM336 242h2v1h-2zM250 243h2v1h-2zM338 243h2v1h-2zM249 244h1v1h-1zM340 244h1v1h-1zM248 245h1v1h-1zM341 245h2v1h-2zM246 246h2v1h-2zM343 246h1v1h-1zM245 247h1v1h-1zM344 247h2v1h-2zM244 248h1v1h-1zM346 248h1v1h-1zM242 249h2v1h-2zM347 249h1v1h-1zM241 250h1v1h-1zM348 250h2v1h-2zM240 251h1v1h-1zM350 251h1v1h-1zM238 252h2v1h-2zM351 252h2v1h-2zM237 253h1v1h-1zM353 253h1v1h-1zM236 254h1v1h-1zM354 254h1v1h-1zM235 255h1v1h-1zM355 255h1v1h-1zM234 256h1v1h-1zM356 256h1v1h-1zM232 257h2v1h-2zM357 257h1v1h-1zM231 258h1v1h-1zM358 258h1v1h-1zM230 259h1v1h-1zM359 259h1v1h-1zM229 260h1v1h-1zM360 260h2v1h-2zM227 261h2v1h-2zM362 261h1v1h-1zM226 262h1v1h-1zM363 262h1v1h-1zM225 263h1v1h-1zM364 263h1v1h-1zM224 264h1v2h-1zM365 264h1v1h-1zM366 265h1v1h-1zM223 266h1v1h-1zM367 266h1v1h-1zM222 267h1v2h-1zM368 267h1v1h-1zM369 268h1v1h-1zM221 269h1v1h-1zM370 269h1v1h-1zM220 270h1v1h-1zM371 270h1v1h-1zM219 271h1v2h-1zM372 271h1v1h-1zM373 272h1v1h-1zM218 273h1v1h-1zM374 273h1v1h-1zM217 274h1v2h-1zM375 274h1v1h-1zM376 275h2v1h-2zM216 276h1v1h-1zM378 276h1v1h-1zM215 277h1v2h-1zM379 277h1v1h-1zM380 278h1v1h-1zM214 279h1v1h-1zM381 279h1v1h-1zM213 280h1v1h-1zM382 280h1v1h-1zM212 281h1v2h-1zM383 281h1v1h-1zM384 282h1v1h-1zM211 283h1v1h-1zM385 283h1v1h-1zM210 284h1v2h-1zM386 284h1v1h-1zM387 285h1v1h-1zM209 286h1v1h-1zM388 286h1v1h-1zM208 287h1v1h-1zM389 287h1v1h-1zM207 288h1v1h-1zM390 288h1v1h-1zM206 289h1v1h-1zM391 289h1v1h-1zM205 290h1v2h-1zM392 290h2v1h-2zM394 291h1v1h-1zM204 292h1v1h-1zM395 292h1v1h-1zM203 293h1v1h-1zM396 293h1v1h-1zM202 294h1v1h-1zM397 294h1v1h-1zM201 295h1v1h-1zM398 295h1v1h-1zM200 296h1v1h-1zM399 296h1v1h-1zM199 297h1v1h-1zM400 297h1v1h-1zM198 298h1v1h-1zM401 298h1v1h-1zM197 299h1v2h-1zM402 299h1v1h-1zM403 300h1v2h-1zM196 301h1v1h-1zM195 302h1v1h-1zM404 302h1v1h-1zM194 303h1v1h-1zM405 303h1v1h-1zM193 304h1v1h-1zM406 304h1v2h-1zM192 305h1v1h-1zM191 306h1v1h-1zM407 306h1v1h-1zM190 307h1v1h-1zM408 307h1v1h-1zM189 308h1v2h-1zM409 308h1v2h-1zM188 310h1v1h-1zM410 310h1v1h-1zM187 311h1v1h-1zM411 311h1v1h-1zM186 312h1v1h-1zM412 312h1v2h-1zM185 313h1v1h-1zM184 314h1v1h-1zM413 314h1v1h-1zM183 315h1v1h-1zM414 315h1v1h-1zM182 316h1v1h-1zM415 316h1v2h-1zM181 317h1v2h-1zM416 318h1v1h-1zM180 319h1v1h-1zM417 319h1v1h-1zM179 320h1v1h-1zM418 320h1v1h-1zM178 321h1v1h-1zM419 321h1v1h-1zM177 322h1v1h-1zM420 322h1v1h-1zM176 323h1v1h-1zM421 323h1v1h-1zM175 324h1v1h-1zM422 324h1v1h-1zM174 325h1v2h-1zM423 325h1v1h-1zM424 326h2v1h-2zM173 327h1v1h-1zM426 327h1v1h-1zM172 328h1v1h-1zM427 328h1v1h-1zM171 329h1v1h-1zM428 329h1v1h-1zM170 330h1v1h-1zM429 330h1v1h-1zM169 331h1v2h-1zM430 331h1v1h-1zM431 332h1v1h-1zM168 333h1v1h-1zM432 333h1v1h-1zM167 334h1v1h-1zM433 334h2v1h-2zM166 335h1v1h-1zM435 335h2v1h-2zM165 336h1v1h-1zM437 336h2v1h-2zM164 337h1v2h-1zM439 337h2v1h-2zM441 338h2v1h-2zM163 339h1v1h-1zM443 339h2v1h-2zM162 340h1v1h-1zM445 340h2v1h-2zM161 341h1v1h-1zM447 341h2v1h-2zM160 342h1v1h-1zM449 342h2v1h-2zM159 343h1v2h-1zM451 343h3v1h-3zM454 344h2v1h-2zM158 345h1v1h-1zM456 345h3v1h-3zM157 346h1v1h-1zM459 346h3v1h-3zM156 347h1v1h-1zM462 347h2v1h-2zM155 348h1v2h-1zM464 348h3v1h-3zM467 349h3v1h-3zM154 350h1v1h-1zM470 350h4v1h-4zM153 351h1v1h-1zM474 351h3v1h-3zM152 352h1v1h-1zM477 352h3v1h-3zM151 353h1v2h-1zM480 353h3v1h-3zM483 354h2v1h-2zM150 355h1v1h-1zM485 355h2v1h-2zM149 356h1v1h-1zM487 356h3v1h-3zM148 357h1v1h-1zM490 357h2v1h-2zM147 358h1v2h-1zM492 358h2v1h-2zM494 359h2v1h-2zM146 360h1v1h-1zM496 360h19v1h-19zM145 361h1v1h-1zM515 361h2v1h-2zM144 362h1v1h-1zM517 362h2v1h-2zM143 363h1v1h-1zM519 363h3v1h-3zM142 364h1v1h-1zM522 364h2v1h-2zM141 365h1v1h-1zM524 365h2v1h-2zM140 366h1v1h-1zM526 366h2v1h-2zM139 367h1v1h-1zM528 367h3v1h-3zM138 368h1v1h-1zM531 368h3v1h-3zM137 369h1v1h-1zM534 369h2v1h-2zM136 370h1v1h-1zM536 370h3v1h-3zM135 371h1v1h-1zM539 371h3v1h-3zM134 372h1v1h-1zM542 372h2v1h-2zM133 373h1v1h-1zM544 373h3v1h-3zM132 374h1v1h-1zM547 374h3v1h-3zM131 375h1v1h-1zM550 375h4v1h-4zM130 376h1v1h-1zM554 376h3v1h-3zM129 377h1v1h-1zM557 377h3v1h-3zM127 378h2v1h-2zM560 378h4v1h-4zM592 378h2v1h-2zM125 379h2v1h-2zM564 379h4v1h-4zM588 379h4v1h-4zM594 379h1v1h-1zM123 380h2v1h-2zM568 380h4v1h-4zM584 380h4v1h-4zM595 380h1v1h-1zM121 381h2v1h-2zM572 381h4v1h-4zM580 381h4v1h-4zM596 381h1v1h-1zM119 382h2v1h-2zM576 382h4v1h-4zM597 382h1v1h-1zM117 383h2v1h-2zM598 383h1v1h-1zM115 384h2v1h-2zM599 384h1v1h-1zM113 385h2v1h-2zM600 385h2v1h-2zM111 386h2v1h-2zM602 386h1v1h-1zM109 387h2v1h-2zM603 387h1v1h-1zM107 388h2v1h-2zM604 388h1v1h-1zM106 389h1v1h-1zM605 389h1v1h-1zM104 390h2v1h-2zM606 390h1v1h-1zM102 391h2v1h-2zM607 391h1v1h-1zM100 392h2v1h-2zM608 392h1v1h-1zM98 393h2v1h-2zM609 393h1v1h-1zM97 394h1v1h-1zM610 394h1v1h-1zM95 395h2v1h-2zM611 395h1v1h-1zM94 396h1v1h-1zM612 396h1v1h-1zM92 397h2v1h-2zM613 397h1v1h-1zM91 398h1v1h-1zM614 398h1v1h-1zM90 399h1v1h-1zM615 399h1v1h-1zM88 400h2v1h-2zM616 400h1v1h-1zM87 401h1v1h-1zM617 401h1v2h-1zM85 402h2v1h-2zM84 403h1v1h-1zM618 403h1v1h-1zM82 404h2v1h-2zM619 404h1v1h-1zM81 405h1v1h-1zM620 405h1v1h-1zM80 406h1v1h-1zM621 406h1v1h-1zM78 407h2v1h-2zM622 407h1v1h-1zM77 408h1v1h-1zM623 408h1v1h-1zM76 409h1v1h-1zM624 409h1v1h-1zM75 410h1v1h-1zM625 410h1v1h-1zM74 411h1v1h-1zM626 411h2v1h-2zM72 412h2v1h-2zM628 412h2v1h-2zM71 413h1v1h-1zM630 413h2v1h-2zM70 414h1v1h-1zM632 414h2v1h-2zM69 415h1v1h-1zM634 415h1v1h-1zM67 416h2v1h-2zM635 416h2v1h-2zM66 417h1v1h-1zM637 417h2v1h-2zM65 418h1v1h-1zM639 418h2v1h-2zM1 419h1v1h-1zM63 419h2v1h-2zM641 419h2v1h-2zM2 420h2v1h-2zM61 420h2v1h-2zM643 420h2v1h-2zM4 421h2v1h-2zM59 421h2v1h-2zM645 421h2v1h-2zM6 422h1v1h-1zM57 422h2v1h-2zM647 422h3v1h-3zM7 423h2v1h-2zM55 423h2v1h-2zM650 423h2v1h-2zM9 424h1v1h-1zM53 424h2v1h-2zM652 424h2v1h-2zM10 425h2v1h-2zM51 425h2v1h-2zM654 425h2v1h-2zM12 426h2v1h-2zM49 426h2v1h-2zM656 426h2v1h-2zM14 427h1v1h-1zM47 427h2v1h-2zM658 427h1v1h-1zM15 428h2v1h-2zM45 428h2v1h-2zM659 428h1v1h-1zM17 429h2v1h-2zM43 429h2v1h-2zM660 429h2v1h-2zM19 430h3v1h-3zM42 430h1v1h-1zM662 430h1v1h-1zM22 431h2v1h-2zM40 431h2v1h-2zM663 431h1v1h-1zM24 432h3v1h-3zM38 432h2v1h-2zM664 432h1v1h-1zM27 433h3v1h-3zM36 433h2v1h-2zM665 433h1v1h-1zM30 434h2v1h-2zM34 434h2v1h-2zM666 434h1v1h-1zM32 435h2v1h-2zM667 435h1v1h-1zM668 436h2v1h-2zM670 437h1v1h-1zM671 438h1v1h-1zM672 439h1v1h-1zM673 440h3v1h-3zM676 441h4v1h-4zM680 442h4v1h-4zM684 443h4v1h-4zM688 444h3v1h-3zM691 445h3v1h-3zM694 446h2v1h-2zM696 447h3v1h-3zM699 448h3v1h-3zM702 449h2v1h-2zM704 450h3v1h-3zM707 451h3v1h-3zM710 452h4v1h-4zM714 453h3v1h-3zM717 454h3v1h-3zM720 455h3v1h-3zM723 456h3v1h-3zM726 457h2v1h-2zM728 458h3v1h-3zM731 459h3v1h-3zM734 460h2v1h-2zM736 461h2v1h-2zM738 462h2v1h-2zM740 463h1v1h-1zM741 464h1v1h-1zM742 465h2v1h-2zM744 466h1v1h-1zM745 467h1v1h-1zM1329 467h1v1h-1zM746 468h2v1h-2zM1328 468h1v1h-1zM748 469h1v1h-1zM1326 469h2v1h-2zM749 470h1v1h-1zM1325 470h1v1h-1zM750 471h2v1h-2zM1324 471h1v1h-1zM752 472h1v1h-1zM1323 472h1v1h-1zM753 473h1v1h-1zM1322 473h1v1h-1zM754 474h1v1h-1zM1320 474h2v1h-2zM755 475h1v1h-1zM1319 475h1v1h-1zM756 476h1v1h-1zM1318 476h1v1h-1zM757 477h1v1h-1zM1317 477h1v1h-1zM758 478h1v1h-1zM1315 478h2v1h-2zM759 479h1v1h-1zM1314 479h1v1h-1zM760 480h1v1h-1zM1313 480h1v1h-1zM761 481h1v2h-1zM1312 481h1v1h-1zM1311 482h1v1h-1zM762 483h1v1h-1zM1310 483h1v1h-1zM763 484h1v1h-1zM1309 484h1v1h-1zM764 485h1v1h-1zM1308 485h1v1h-1zM765 486h1v1h-1zM1307 486h1v1h-1zM766 487h1v1h-1zM1306 487h1v1h-1zM767 488h1v1h-1zM1305 488h1v1h-1zM768 489h1v1h-1zM1304 489h1v1h-1zM769 490h1v1h-1zM1303 490h1v1h-1zM770 491h1v1h-1zM1302 491h1v1h-1zM771 492h1v2h-1zM1301 492h1v1h-1zM1300 493h1v1h-1zM772 494h1v1h-1zM1299 494h1v1h-1zM773 495h1v1h-1zM1298 495h1v1h-1zM774 496h1v2h-1zM1297 496h1v1h-1zM1296 497h1v1h-1zM775 498h1v1h-1zM1295 498h1v1h-1zM776 499h1v1h-1zM1294 499h1v1h-1zM777 500h1v2h-1zM1293 500h1v1h-1zM1292 501h1v1h-1zM778 502h1v1h-1zM1291 502h1v1h-1zM779 503h1v1h-1zM1290 503h1v1h-1zM780 504h1v2h-1zM1288 504h2v1h-2zM1287 505h1v1h-1zM781 506h1v1h-1zM1286 506h1v1h-1zM782 507h1v1h-1zM1285 507h1v1h-1zM783 508h1v2h-1zM1284 508h1v1h-1zM1283 509h1v1h-1zM784 510h1v1h-1zM1282 510h1v1h-1zM785 511h1v1h-1zM1280 511h2v1h-2zM786 512h1v1h-1zM1278 512h2v1h-2zM787 513h1v1h-1zM1276 513h2v1h-2zM788 514h1v2h-1zM1274 514h2v1h-2zM1271 515h3v1h-3zM789 516h1v1h-1zM1269 516h2v1h-2zM790 517h1v1h-1zM1267 517h2v1h-2zM791 518h1v1h-1zM1265 518h2v1h-2zM792 519h1v1h-1zM1264 519h1v1h-1zM793 520h1v2h-1zM1262 520h2v1h-2zM1261 521h1v1h-1zM794 522h1v1h-1zM1260 522h1v1h-1zM795 523h1v1h-1zM1259 523h1v1h-1zM796 524h1v1h-1zM1258 524h1v1h-1zM797 525h1v1h-1zM1256 525h2v1h-2zM798 526h1v2h-1zM1255 526h1v1h-1zM1254 527h1v1h-1zM799 528h1v1h-1zM1253 528h1v1h-1zM800 529h1v1h-1zM1251 529h2v1h-2zM801 530h1v1h-1zM1250 530h1v1h-1zM802 531h1v1h-1zM1249 531h1v1h-1zM803 532h1v1h-1zM1247 532h2v1h-2zM804 533h1v1h-1zM1246 533h1v1h-1zM805 534h1v2h-1zM1244 534h2v1h-2zM1243 535h1v1h-1zM806 536h1v1h-1zM1242 536h1v1h-1zM807 537h1v1h-1zM1240 537h2v1h-2zM808 538h1v1h-1zM1239 538h1v1h-1zM809 539h1v1h-1zM1237 539h2v1h-2zM810 540h1v1h-1zM1236 540h1v1h-1zM811 541h1v1h-1zM1234 541h2v1h-2zM812 542h1v1h-1zM1233 542h1v1h-1zM813 543h1v2h-1zM1231 543h2v1h-2zM1229 544h2v1h-2zM814 545h1v1h-1zM1227 545h2v1h-2zM815 546h1v1h-1zM1226 546h1v1h-1zM816 547h1v1h-1zM1224 547h2v1h-2zM817 548h1v1h-1zM1055 548h4v1h-4zM1222 548h2v1h-2zM818 549h1v1h-1zM1050 549h5v1h-5zM1059 549h3v1h-3zM1220 549h2v1h-2zM819 550h1v2h-1zM1044 550h6v1h-6zM1062 550h4v1h-4zM1218 550h2v1h-2zM1039 551h5v1h-5zM1066 551h3v1h-3zM1216 551h2v1h-2zM820 552h1v1h-1zM1034 552h5v1h-5zM1069 552h3v1h-3zM1214 552h2v1h-2zM821 553h1v1h-1zM1028 553h6v1h-6zM1072 553h2v1h-2zM1212 553h2v1h-2zM822 554h1v1h-1zM1024 554h4v1h-4zM1074 554h1v1h-1zM1210 554h2v1h-2zM823 555h1v2h-1zM1020 555h4v1h-4zM1075 555h1v1h-1zM1207 555h3v1h-3zM1016 556h4v1h-4zM1076 556h1v1h-1zM1205 556h2v1h-2zM824 557h1v1h-1zM1012 557h4v1h-4zM1077 557h1v1h-1zM1203 557h2v1h-2zM825 558h1v1h-1zM1007 558h5v1h-5zM1078 558h1v1h-1zM1200 558h3v1h-3zM826 559h1v1h-1zM1002 559h5v1h-5zM1079 559h1v1h-1zM1198 559h2v1h-2zM827 560h1v2h-1zM996 560h6v1h-6zM1080 560h1v1h-1zM1196 560h2v1h-2zM913 561h9v1h-9zM986 561h10v1h-10zM1081 561h1v1h-1zM1194 561h2v1h-2zM828 562h1v1h-1zM912 562h1v1h-1zM922 562h64v1h-64zM1082 562h1v1h-1zM1191 562h3v1h-3zM829 563h1v1h-1zM911 563h1v1h-1zM1083 563h1v1h-1zM1189 563h2v1h-2zM830 564h1v1h-1zM910 564h1v1h-1zM1084 564h1v1h-1zM1187 564h2v1h-2zM831 565h1v2h-1zM909 565h1v1h-1zM1085 565h1v1h-1zM1184 565h3v1h-3zM908 566h1v1h-1zM1086 566h1v1h-1zM1181 566h3v1h-3zM832 567h1v1h-1zM907 567h1v1h-1zM1087 567h1v1h-1zM1178 567h3v1h-3zM833 568h2v1h-2zM906 568h1v1h-1zM1088 568h1v1h-1zM1174 568h4v1h-4zM835 569h2v1h-2zM905 569h1v1h-1zM1089 569h2v1h-2zM1171 569h3v1h-3zM837 570h2v1h-2zM904 570h1v1h-1zM1091 570h2v1h-2zM1168 570h3v1h-3zM839 571h2v1h-2zM903 571h1v1h-1zM1093 571h2v1h-2zM1165 571h3v1h-3zM841 572h2v1h-2zM902 572h1v1h-1zM1095 572h3v1h-3zM1162 572h3v1h-3zM843 573h2v1h-2zM901 573h1v1h-1zM1098 573h2v1h-2zM1158 573h4v1h-4zM845 574h2v1h-2zM900 574h1v1h-1zM1100 574h2v1h-2zM1155 574h3v1h-3zM847 575h2v1h-2zM899 575h1v1h-1zM1102 575h2v1h-2zM1152 575h3v1h-3zM849 576h3v1h-3zM898 576h1v1h-1zM1104 576h4v1h-4zM1149 576h3v1h-3zM852 577h6v1h-6zM895 577h3v1h-3zM1108 577h6v1h-6zM1146 577h3v1h-3zM858 578h5v1h-5zM890 578h5v1h-5zM1114 578h5v1h-5zM1142 578h4v1h-4zM863 579h11v1h-11zM884 579h6v1h-6zM1119 579h11v1h-11zM1139 579h3v1h-3zM874 580h10v1h-10zM1130 580h9v1h-9z" fill="#3cb371" shape-rendering="crispEdges"/>
</g>
<g clip-path="url(#cc)" shape-rendering="crispEdges">
<rect x="1" y="107" width="1" height="99" fill="#000"/>
<rect x="-4" y="123" width="11" height="77" fill="#000"/>
<rect x="-3" y="124" width="9" height="75" fill="#fff"/>
<rect x="17" y="114" width="1" height="22" fill="#000"/>
<rect x="12" y="124" width="11" height="5" fill="#000"/>
<rect x="33" y="100" width="1" height="40" fill="#000"/>
<rect x="28" y="126" width="11" height="3" fill="#000"/>
<rect x="29" y="127" width="9" height="1" fill="#fff"/>
<rect x="49" y="123" width="1" height="18" fill="#000"/>
<rect x="44" y="123" width="11" height="17" fill="#000"/>
<rect x="45" y="124" width="9" height="15" fill="#fff"/>
<rect x="65" y="110" width="1" height="26" fill="#000"/>
<rect x="60" y="123" width="11" height="6" fill="#000"/>
<rect x="81" y="100" width="1" height="60" fill="#000"/>
<rect x="76" y="119" width="11" height="10" fill="#000"/>
<rect x="77" y="120" width="9" height="8" fill="#fff"/>
<rect x="97" y="100" width="1" height="30" fill="#000"/>
<rect x="92" y="100" width="11" height="20" fill="#000"/>
<rect x="93" y="101" width="9" height="18" fill="#fff"/>
<rect x="113" y="100" width="1" height="13" fill="#000"/>
<rect x="108" y="100" width="11" height="12" fill="#000"/>
<rect x="109" y="101" width="9" height="10" fill="#fff"/>
<rect x="129" y="100" width="1" height="28" fill="#000"/>
<rect x="124" y="100" width="11" height="8" fill="#000"/>
<rect x="145" y="100" width="1" height="18" fill="#000"/>
<rect x="140" y="100" width="11" height="8" fill="#000"/>
<rect x="161" y="90" width="1" height="66" fill="#000"/>
<rect x="156" y="100" width="11" height="31" fill="#000"/>
<rect x="177" y="119" width="1" height="47" fill="#000"/>
<rect x="172" y="131" width="11" height="28" fill="#000"/>
<rect x="193" y="121" width="1" height="52" fill="#000"/>
<rect x="188" y="128" width="11" height="31" fill="#000"/>
<rect x="189" y="129" width="9" height="29" fill="#fff"/>
<rect x="209" y="118" width="1" height="97" fill="#000"/>
<rect x="204" y="129" width="11" height="75" fill="#000"/>
<rect x="225" y="176" width="1" height="31" fill="#000"/>
<rect x="220" y="190" width="11" height="14" fill="#000"/>
<rect x="221" y="191" width="9" height="12" fill="#fff"/>
<rect x="241" y="179" width="1" height="42" fill="#000"/>
<rect x="236" y="190" width="11" height="20" fill="#000"/>
<rect x="257" y="175" width="1" height="44" fill="#000"/>
<rect x="252" y="192" width="11" height="19" fill="#000"/>
<rect x="253" y="193" width="9" height="17" fill="#fff"/>
<rect x="273" y="168" width="1" height="41" fill="#000"/>
<rect x="268" y="193" width="11" height="8" fill="#000"/>
<rect x="289" y="169" width="1" height="58" fill="#000"/>
<rect x="284" y="187" width="11" height="14" fill="#000"/>
<rect x="285" y="188" width="9" height="12" fill="#fff"/>
<rect x="305" y="185" width="1" height="56" fill="#000"/>
<rect x="300" y="188" width="11" height="39" fill="#000"/>
<rect x="321" y="188" width="1" height="50" fill="#000"/>
<rect x="316" y="196" width="11" height="31" fill="#000"/>
<rect x="317" y="197" width="9" height="29" fill="#fff"/>
<rect x="337" y="191" width="1" height="19" fill="#000"/>
<rect x="332" y="196" width="11" height="12" fill="#000"/>
<rect x="353" y="204" width="1" height="36" fill="#000"/>
<rect x="348" y="208" width="11" height="29" fill="#000"/>
<rect x="369" y="212" width="1" height="67" fill="#000"/>
<rect x="364" y="237" width="11" height="30" fill="#000"/>
<rect x="385" y="245" width="1" height="55" fill="#000"/>
<rect x="380" y="266" width="11" height="14" fill="#000"/>
<rect x="401" y="266" width="1" height="46" fill="#000"/>
<rect x="396" y="279" width="11" height="11" fill="#000"/>
<rect x="417" y="282" width="1" height="45" fill="#000"/>
<rect x="412" y="290" width="11" height="36" fill="#000"/>
<rect x="433" y="302" width="1" height="26" fill="#000"/>
<rect x="428" y="324" width="11" height="1" fill="#000"/>
<rect x="449" y="301" width="1" height="13" fill="#000"/>
<rect x="444" y="307" width="11" height="4" fill="#000"/>
<rect x="465" y="292" width="1" height="26" fill="#000"/>
<rect x="460" y="309" width="11" height="2" fill="#000"/>
<rect x="481" y="295" width="1" height="20" fill="#000"/>
<rect x="476" y="306" width="11" height="5" fill="#000"/>
<rect x="477" y="307" width="9" height="3" fill="#fff"/>
<rect x="497" y="301" width="1" height="20" fill="#000"/>
<rect x="492" y="307" width="11" height="11" fill="#000"/>
<rect x="513" y="312" width="1" height="27" fill="#000"/>
<rect x="508" y="317" width="11" height="5" fill="#000"/>
<rect x="529" y="315" width="1" height="15" fill="#000"/>
<rect x="524" y="321" width="11" height="7" fill="#000"/>
<rect x="545" y="320" width="1" height="12" fill="#000"/>
<rect x="540" y="326" width="11" height="2" fill="#000"/>
<rect x="561" y="320" width="1" height="56" fill="#000"/>
<rect x="556" y="326" width="11" height="5" fill="#000"/>
<rect x="577" y="312" width="1" height="30" fill="#000"/>
<rect x="572" y="330" width="11" height="1" fill="#000"/>
<rect x="593" y="273" width="1" height="61" fill="#000"/>
<rect x="588" y="288" width="11" height="43" fill="#000"/>
<rect x="589" y="289" width="9" height="41" fill="#fff"/>
<rect x="609" y="284" width="1" height="137" fill="#000"/>
<rect x="604" y="288" width="11" height="120" fill="#000"/>
<rect x="625" y="400" width="1" height="39" fill="#000"/>
<rect x="620" y="407" width="11" height="8" fill="#000"/>
<rect x="641" y="409" width="1" height="19" fill="#000"/>
<rect x="636" y="413" width="11" height="4" fill="#000"/>
<rect x="637" y="414" width="9" height="2" fill="#fff"/>
<rect x="657" y="390" width="1" height="50" fill="#000"/>
<rect x="652" y="414" width="11" height="23" fill="#000"/>
<rect x="673" y="422" width="1" height="46" fill="#000"/>
<rect x="668" y="436" width="11" height="5" fill="#000"/>
<rect x="689" y="396" width="1" height="64" fill="#000"/>
<rect x="684" y="396" width="11" height="45" fill="#000"/>
<rect x="685" y="397" width="9" height="43" fill="#fff"/>
<rect x="705" y="388" width="1" height="37" fill="#000"/>
<rect x="700" y="396" width="11" height="16" fill="#000"/>
<rect x="721" y="370" width="1" height="75" fill="#000"/>
<rect x="716" y="406" width="11" height="6" fill="#000"/>
<rect x="717" y="407" width="9" height="4" fill="#fff"/>
<rect x="737" y="395" width="1" height="35" fill="#000"/>
<rect x="732" y="407" width="11" height="9" fill="#000"/>
<rect x="753" y="392" width="1" height="61" fill="#000"/>
<rect x="748" y="413" width="11" height="31" fill="#000"/>
<rect x="769" y="432" width="1" height="66" fill="#000"/>
<rect x="764" y="443" width="11" height="42" fill="#000"/>
<rect x="785" y="477" width="1" height="53" fill="#000"/>
<rect x="780" y="484" width="11" height="41" fill="#000"/>
<rect x="801" y="497" width="1" height="70" fill="#000"/>
<rect x="796" y="523" width="11" height="7" fill="#000"/>
<rect x="817" y="518" width="1" height="34" fill="#000"/>
<rect x="812" y="527" width="11" height="1" fill="#000"/>
<rect x="833" y="520" width="1" height="32" fill="#000"/>
<rect x="828" y="527" width="11" height="23" fill="#000"/>
<rect x="849" y="497" width="1" height="71" fill="#000"/>
<rect x="844" y="518" width="11" height="32" fill="#000"/>
<rect x="845" y="519" width="9" height="30" fill="#fff"/>
<rect x="865" y="484" width="1" height="36" fill="#000"/>
<rect x="860" y="502" width="11" height="16" fill="#000"/>
<rect x="861" y="503" width="9" height="14" fill="#fff"/>
<rect x="881" y="471" width="1" height="39" fill="#000"/>
<rect x="876" y="493" width="11" height="10" fill="#000"/>
<rect x="877" y="494" width="9" height="8" fill="#fff"/>
<rect x="897" y="459" width="1" height="53" fill="#000"/>
<rect x="892" y="476" width="11" height="18" fill="#000"/>
<rect x="893" y="477" width="9" height="16" fill="#fff"/>
<rect x="913" y="468" width="1" height="18" fill="#000"/>
<rect x="908" y="476" width="11" height="4" fill="#000"/>
<rect x="929" y="489" width="1" height="10" fill="#000"/>
<rect x="924" y="492" width="11" height="4" fill="#000"/>
<rect x="945" y="468" width="1" height="34" fill="#000"/>
<rect x="940" y="472" width="11" height="24" fill="#000"/>
<rect x="941" y="473" width="9" height="22" fill="#fff"/>
<rect x="961" y="424" width="1" height="49" fill="#000"/>
<rect x="956" y="427" width="11" height="46" fill="#000"/>
<rect x="957" y="428" width="9" height="44" fill="#fff"/>
<rect x="977" y="417" width="1" height="56" fill="#000"/>
<rect x="972" y="429" width="11" height="37" fill="#000"/>
<rect x="993" y="440" width="1" height="49" fill="#000"/>
<rect x="988" y="449" width="11" height="17" fill="#000"/>
<rect x="989" y="450" width="9" height="15" fill="#fff"/>
<rect x="1009" y="419" width="1" height="34" fill="#000"/>
<rect x="1004" y="448" width="11" height="2" fill="#000"/>
<rect x="1025" y="448" width="1" height="22" fill="#000"/>
<rect x="1020" y="448" width="11" height="9" fill="#000"/>
<rect x="1041" y="452" width="1" height="39" fill="#000"/>
<rect x="1036" y="455" width="11" height="10" fill="#000"/>
<rect x="1057" y="462" width="1" height="62" fill="#000"/>
<rect x="1052" y="464" width="11" height="29" fill="#000"/>
<rect x="1073" y="386" width="1" height="108" fill="#000"/>
<rect x="1068" y="409" width="11" height="84" fill="#000"/>
<rect x="1069" y="410" width="9" height="82" fill="#fff"/>
<rect x="1089" y="313" width="1" height="99" fill="#000"/>
<rect x="1084" y="341" width="11" height="69" fill="#000"/>
<rect x="1085" y="342" width="9" height="67" fill="#fff"/>
<rect x="1105" y="320" width="1" height="22" fill="#000"/>
<rect x="1100" y="324" width="11" height="18" fill="#000"/>
<rect x="1101" y="325" width="9" height="16" fill="#fff"/>
<rect x="1121" y="317" width="1" height="20" fill="#000"/>
<rect x="1116" y="324" width="11" height="3" fill="#000"/>
<rect x="1137" y="295" width="1" height="32" fill="#000"/>
<rect x="1132" y="299" width="11" height="28" fill="#000"/>
<rect x="1133" y="300" width="9" height="26" fill="#fff"/>
<rect x="1153" y="271" width="1" height="38" fill="#000"/>
<rect x="1148" y="286" width="11" height="14" fill="#000"/>
<rect x="1149" y="287" width="9" height="12" fill="#fff"/>
<rect x="1169" y="263" width="1" height="44" fill="#000"/>
<rect x="1164" y="286" width="11" height="6" fill="#000"/>
<rect x="1185" y="268" width="1" height="47" fill="#000"/>
<rect x="1180" y="281" width="11" height="11" fill="#000"/>
<rect x="1181" y="282" width="9" height="9" fill="#fff"/>
<rect x="1201" y="266" width="1" height="49" fill="#000"/>
<rect x="1196" y="281" width="11" height="29" fill="#000"/>
<rect x="1217" y="290" width="1" height="29" fill="#000"/>
<rect x="1212" y="297" width="11" height="11" fill="#000"/>
<rect x="1213" y="298" width="9" height="9" fill="#fff"/>
<rect x="1233" y="251" width="1" height="49" fill="#000"/>
<rect x="1228" y="272" width="11" height="24" fill="#000"/>
<rect x="1229" y="273" width="9" height="22" fill="#fff"/>
<rect x="1249" y="235" width="1" height="67" fill="#000"/>
<rect x="1244" y="241" width="11" height="32" fill="#000"/>
<rect x="1245" y="242" width="9" height="30" fill="#fff"/>
<rect x="1265" y="237" width="1" height="99" fill="#000"/>
<rect x="1260" y="241" width="11" height="58" fill="#000"/>
<rect x="1281" y="288" width="1" height="72" fill="#000"/>
<rect x="1276" y="299" width="11" height="48" fill="#000"/>
<rect x="1297" y="314" width="1" height="44" fill="#000"/>
<rect x="1292" y="318" width="11" height="29" fill="#000"/>
<rect x="1293" y="319" width="9" height="27" fill="#fff"/>
<rect x="1313" y="313" width="1" height="17" fill="#000"/>
<rect x="1308" y="317" width="11" height="3" fill="#000"/>
<rect x="1329" y="319" width="1" height="5" fill="#000"/>
<rect x="1324" y="319" width="11" height="5" fill="#000"/>
</g>
<rect x="1250" y="335" width="83" height="10" fill="#00ff00" shape-rendering="crispEdges"/>
<g shape-rendering="crispEdges">
<rect x="1" y="46" width="224" height="68" fill="#fff"/>
<rect x="4" y="72" width="109" height="40" fill="url(#gBig)"/>
<rect x="115" y="72" width="108" height="40" fill="url(#gBig)"/>
<rect x="4" y="48" width="52" height="25" fill="url(#gSell)"/>
<rect x="171" y="48" width="52" height="25" fill="url(#gSell)"/>
<rect x="4" y="48" width="52" height="1" fill="#d01818"/><rect x="4" y="48" width="1" height="64" fill="#d01818"/>
<rect x="171" y="48" width="52" height="1" fill="#d01818"/><rect x="222" y="48" width="1" height="64" fill="#c01010"/>
<rect x="8" y="71" width="44" height="1" fill="#a80808"/><rect x="175" y="71" width="44" height="1" fill="#a80808"/>
<rect x="8" y="72" width="44" height="1" fill="#ee4a4a"/><rect x="175" y="72" width="44" height="1" fill="#ee4a4a"/>
<rect x="1" y="107" width="1" height="8" fill="#000"/>
<rect x="58" y="48" width="111" height="22" fill="#fff"/>
<rect x="58.5" y="48.5" width="110" height="21" fill="none" stroke="#a9a9a9"/>
<rect x="59" y="49" width="20" height="20" fill="url(#gBtn)"/><rect x="79" y="49" width="1" height="20" fill="#b4b4b4"/>
<rect x="148" y="49" width="20" height="20" fill="url(#gBtn)"/><rect x="147" y="49" width="1" height="20" fill="#b4b4b4"/>
</g>
<path d="M65.5 57 L71.5 57 L68.5 60.5 Z" fill="#000"/><path d="M154.5 60.5 L160.5 60.5 L157.5 57 Z" fill="#000"/>
<text x="143.5" y="63.5" font-size="12px" text-anchor="end" fill="#000">1.00</text>
<text x="29.4" y="63.2" font-size="11.5px" text-anchor="middle" fill="#fff" textLength="25.8" lengthAdjust="spacingAndGlyphs">SELL</text>
<text x="196.5" y="63.2" font-size="11.5px" text-anchor="middle" fill="#fff">BUY</text>
<text x="27.5" y="103" font-size="12px" font-weight="bold" fill="#fff">145</text>
<text x="52" y="103" font-size="32.5px" fill="#fff" textLength="34" lengthAdjust="spacingAndGlyphs">30</text>
<text x="91.3" y="86.6" font-size="12.4px" font-weight="bold" fill="#fff">2</text>
<text x="137.8" y="103" font-size="12px" font-weight="bold" fill="#fff">145</text>
<text x="162.5" y="103" font-size="32.5px" fill="#fff" textLength="34" lengthAdjust="spacingAndGlyphs">33</text>
<text x="201.6" y="86.6" font-size="12.4px" font-weight="bold" fill="#fff">8</text>
<path d="M4 39.5 L10.6 39.5 L7.3 35 Z" fill="#000"/>
<text x="16" y="40" font-size="9.2px" fill="#000" textLength="199.5" lengthAdjust="spacing" xml:space="preserve">GBPJPY-,H4  145.325 145.329 145.298 145.302</text>
<path d="M1361 29 L1371 29 L1366 34 Z" fill="#c0c0c0"/>
<g shape-rendering="crispEdges" fill="#000">
<rect x="0" y="28" width="1629" height="1"/>
<rect x="0" y="28" width="1" height="554"/>
<rect x="0" y="581" width="1629" height="1"/>
<rect x="1628" y="28" width="1" height="901"/>
<rect x="0" y="583" width="1629" height="1"/>
<rect x="0" y="583" width="1" height="184"/>
<rect x="0" y="766" width="1629" height="1"/>
<rect x="0" y="768" width="1629" height="1"/>
<rect x="0" y="768" width="1" height="161"/>
<rect x="0" y="928" width="1629" height="1"/>
<rect x="1628" y="582" width="1" height="1" fill="#fff"/><rect x="1628" y="767" width="1" height="1" fill="#fff"/>
</g>
<g shape-rendering="crispEdges">
<rect x="1629" y="50" width="2" height="1" fill="#000"/>
<rect x="1629" y="83" width="2" height="1" fill="#000"/>
<rect x="1629" y="116" width="2" height="1" fill="#000"/>
<rect x="1629" y="149" width="2" height="1" fill="#000"/>
<rect x="1629" y="182" width="2" height="1" fill="#000"/>
<rect x="1629" y="215" width="2" height="1" fill="#000"/>
<rect x="1629" y="248" width="2" height="1" fill="#000"/>
<rect x="1629" y="281" width="2" height="1" fill="#000"/>
<rect x="1629" y="314" width="2" height="1" fill="#000"/>
<rect x="1629" y="347" width="2" height="1" fill="#000"/>
<rect x="1629" y="380" width="2" height="1" fill="#000"/>
<rect x="1629" y="413" width="2" height="1" fill="#000"/>
<rect x="1629" y="446" width="2" height="1" fill="#000"/>
<rect x="1629" y="479" width="2" height="1" fill="#000"/>
<rect x="1629" y="512" width="2" height="1" fill="#000"/>
<rect x="1629" y="545" width="2" height="1" fill="#000"/>
<rect x="1629" y="578" width="2" height="1" fill="#000"/>
</g>
<text class="ax" x="1634.5" y="53.8" font-size="9.6px" textLength="32.4" lengthAdjust="spacingAndGlyphs">147.030</text>
<text class="ax" x="1634.5" y="86.8" font-size="9.6px" textLength="32.4" lengthAdjust="spacingAndGlyphs">146.820</text>
<text class="ax" x="1634.5" y="119.8" font-size="9.6px" textLength="32.4" lengthAdjust="spacingAndGlyphs">146.610</text>
<text class="ax" x="1634.5" y="152.8" font-size="9.6px" textLength="32.4" lengthAdjust="spacingAndGlyphs">146.400</text>
<text class="ax" x="1634.5" y="185.8" font-size="9.6px" textLength="32.4" lengthAdjust="spacingAndGlyphs">146.195</text>
<text class="ax" x="1634.5" y="218.8" font-size="9.6px" textLength="32.4" lengthAdjust="spacingAndGlyphs">145.985</text>
<text class="ax" x="1634.5" y="251.8" font-size="9.6px" textLength="32.4" lengthAdjust="spacingAndGlyphs">145.775</text>
<text class="ax" x="1634.5" y="284.8" font-size="9.6px" textLength="32.4" lengthAdjust="spacingAndGlyphs">145.565</text>
<text class="ax" x="1634.5" y="317.8" font-size="9.6px" textLength="32.4" lengthAdjust="spacingAndGlyphs">145.355</text>
<text class="ax" x="1634.5" y="350.8" font-size="9.6px" textLength="32.4" lengthAdjust="spacingAndGlyphs">145.150</text>
<text class="ax" x="1634.5" y="383.8" font-size="9.6px" textLength="32.4" lengthAdjust="spacingAndGlyphs">144.940</text>
<text class="ax" x="1634.5" y="416.8" font-size="9.6px" textLength="32.4" lengthAdjust="spacingAndGlyphs">144.730</text>
<text class="ax" x="1634.5" y="449.8" font-size="9.6px" textLength="32.4" lengthAdjust="spacingAndGlyphs">144.520</text>
<text class="ax" x="1634.5" y="482.8" font-size="9.6px" textLength="32.4" lengthAdjust="spacingAndGlyphs">144.310</text>
<text class="ax" x="1634.5" y="515.8" font-size="9.6px" textLength="32.4" lengthAdjust="spacingAndGlyphs">144.105</text>
<text class="ax" x="1634.5" y="548.8" font-size="9.6px" textLength="32.4" lengthAdjust="spacingAndGlyphs">143.895</text>
<text class="ax" x="1634.5" y="581.8" font-size="9.6px" textLength="32.4" lengthAdjust="spacingAndGlyphs">143.685</text>
<g shape-rendering="crispEdges">
<rect x="1630" y="245" width="41" height="11" fill="#ff0000"/>
<rect x="1630" y="285" width="41" height="11" fill="#ff4500"/>
<rect x="1630" y="332" width="41" height="11" fill="#32cd32"/>
<rect x="1630" y="367" width="41" height="11" fill="#0000ff"/>
<rect x="1630" y="399" width="41" height="11" fill="#0000ff"/>
<rect x="1630" y="318" width="41" height="11" fill="#000000"/>
</g>
<text class="tag" x="1634.5" y="254.0" font-size="9.6px" textLength="32.4" lengthAdjust="spacingAndGlyphs">145.757</text>
<text class="tag" x="1634.5" y="294.0" font-size="9.6px" textLength="32.4" lengthAdjust="spacingAndGlyphs">145.503</text>
<text class="tag" x="1634.5" y="341.0" font-size="9.6px" textLength="32.4" lengthAdjust="spacingAndGlyphs">145.203</text>
<text class="tag" x="1634.5" y="376.0" font-size="9.6px" textLength="32.4" lengthAdjust="spacingAndGlyphs">144.983</text>
<text class="tag" x="1634.5" y="408.0" font-size="9.6px" textLength="32.4" lengthAdjust="spacingAndGlyphs">144.783</text>
<text class="tag" x="1634.5" y="327.0" font-size="9.6px" textLength="32.4" lengthAdjust="spacingAndGlyphs">145.302</text>
<g shape-rendering="crispEdges">
<rect x="0" y="632" width="2" height="33" fill="#000"/>
<rect x="16" y="621" width="2" height="44" fill="#c0c0c0"/>
<rect x="32" y="613" width="2" height="52" fill="#c0c0c0"/>
<rect x="48" y="607" width="2" height="58" fill="#c0c0c0"/>
<rect x="64" y="603" width="2" height="62" fill="#c0c0c0"/>
<rect x="80" y="600" width="2" height="65" fill="#c0c0c0"/>
<rect x="96" y="596" width="2" height="69" fill="#c0c0c0"/>
<rect x="112" y="595" width="2" height="70" fill="#c0c0c0"/>
<rect x="128" y="594" width="2" height="71" fill="#c0c0c0"/>
<rect x="144" y="594" width="2" height="71" fill="#c0c0c0"/>
<rect x="160" y="599" width="2" height="66" fill="#c0c0c0"/>
<rect x="176" y="606" width="2" height="59" fill="#c0c0c0"/>
<rect x="192" y="609" width="2" height="56" fill="#c0c0c0"/>
<rect x="208" y="620" width="2" height="45" fill="#c0c0c0"/>
<rect x="224" y="628" width="2" height="37" fill="#c0c0c0"/>
<rect x="240" y="637" width="2" height="28" fill="#c0c0c0"/>
<rect x="256" y="642" width="2" height="23" fill="#c0c0c0"/>
<rect x="272" y="648" width="2" height="17" fill="#c0c0c0"/>
<rect x="288" y="650" width="2" height="15" fill="#c0c0c0"/>
<rect x="304" y="657" width="2" height="8" fill="#c0c0c0"/>
<rect x="320" y="659" width="2" height="6" fill="#c0c0c0"/>
<rect x="336" y="662" width="2" height="3" fill="#c0c0c0"/>
<rect x="352" y="665" width="2" height="4" fill="#c0c0c0"/>
<rect x="368" y="665" width="2" height="12" fill="#c0c0c0"/>
<rect x="384" y="665" width="2" height="20" fill="#c0c0c0"/>
<rect x="400" y="665" width="2" height="27" fill="#c0c0c0"/>
<rect x="416" y="665" width="2" height="36" fill="#c0c0c0"/>
<rect x="432" y="665" width="2" height="42" fill="#c0c0c0"/>
<rect x="448" y="665" width="2" height="46" fill="#c0c0c0"/>
<rect x="464" y="665" width="2" height="48" fill="#c0c0c0"/>
<rect x="480" y="665" width="2" height="48" fill="#c0c0c0"/>
<rect x="496" y="665" width="2" height="49" fill="#c0c0c0"/>
<rect x="512" y="665" width="2" height="50" fill="#c0c0c0"/>
<rect x="528" y="665" width="2" height="51" fill="#c0c0c0"/>
<rect x="544" y="665" width="2" height="51" fill="#c0c0c0"/>
<rect x="560" y="665" width="2" height="51" fill="#c0c0c0"/>
<rect x="576" y="665" width="2" height="50" fill="#c0c0c0"/>
<rect x="592" y="665" width="2" height="44" fill="#c0c0c0"/>
<rect x="608" y="665" width="2" height="53" fill="#c0c0c0"/>
<rect x="624" y="665" width="2" height="60" fill="#c0c0c0"/>
<rect x="640" y="665" width="2" height="64" fill="#c0c0c0"/>
<rect x="656" y="665" width="2" height="70" fill="#c0c0c0"/>
<rect x="672" y="665" width="2" height="74" fill="#c0c0c0"/>
<rect x="688" y="665" width="2" height="71" fill="#c0c0c0"/>
<rect x="704" y="665" width="2" height="70" fill="#c0c0c0"/>
<rect x="720" y="665" width="2" height="68" fill="#c0c0c0"/>
<rect x="736" y="665" width="2" height="66" fill="#c0c0c0"/>
<rect x="752" y="665" width="2" height="68" fill="#c0c0c0"/>
<rect x="768" y="665" width="2" height="72" fill="#c0c0c0"/>
<rect x="784" y="665" width="2" height="80" fill="#c0c0c0"/>
<rect x="800" y="665" width="2" height="86" fill="#c0c0c0"/>
<rect x="816" y="665" width="2" height="89" fill="#c0c0c0"/>
<rect x="832" y="665" width="2" height="93" fill="#c0c0c0"/>
<rect x="848" y="665" width="2" height="92" fill="#c0c0c0"/>
<rect x="864" y="665" width="2" height="88" fill="#c0c0c0"/>
<rect x="880" y="665" width="2" height="83" fill="#c0c0c0"/>
<rect x="896" y="665" width="2" height="76" fill="#c0c0c0"/>
<rect x="912" y="665" width="2" height="70" fill="#c0c0c0"/>
<rect x="928" y="665" width="2" height="66" fill="#c0c0c0"/>
<rect x="944" y="665" width="2" height="60" fill="#c0c0c0"/>
<rect x="960" y="665" width="2" height="49" fill="#c0c0c0"/>
<rect x="976" y="665" width="2" height="45" fill="#c0c0c0"/>
<rect x="992" y="665" width="2" height="39" fill="#c0c0c0"/>
<rect x="1008" y="665" width="2" height="34" fill="#c0c0c0"/>
<rect x="1024" y="665" width="2" height="30" fill="#c0c0c0"/>
<rect x="1040" y="665" width="2" height="28" fill="#c0c0c0"/>
<rect x="1056" y="665" width="2" height="29" fill="#c0c0c0"/>
<rect x="1072" y="665" width="2" height="20" fill="#c0c0c0"/>
<rect x="1088" y="665" width="2" height="5" fill="#c0c0c0"/>
<rect x="1104" y="655" width="2" height="10" fill="#c0c0c0"/>
<rect x="1120" y="645" width="2" height="20" fill="#c0c0c0"/>
<rect x="1136" y="634" width="2" height="31" fill="#c0c0c0"/>
<rect x="1152" y="624" width="2" height="41" fill="#c0c0c0"/>
<rect x="1168" y="617" width="2" height="48" fill="#c0c0c0"/>
<rect x="1184" y="611" width="2" height="54" fill="#c0c0c0"/>
<rect x="1200" y="610" width="2" height="55" fill="#c0c0c0"/>
<rect x="1216" y="609" width="2" height="56" fill="#c0c0c0"/>
<rect x="1232" y="606" width="2" height="59" fill="#c0c0c0"/>
<rect x="1248" y="600" width="2" height="65" fill="#c0c0c0"/>
<rect x="1264" y="603" width="2" height="62" fill="#c0c0c0"/>
<rect x="1280" y="612" width="2" height="53" fill="#c0c0c0"/>
<rect x="1296" y="616" width="2" height="49" fill="#c0c0c0"/>
<rect x="1312" y="620" width="2" height="45" fill="#c0c0c0"/>
<rect x="1328" y="624" width="2" height="41" fill="#c0c0c0"/>
</g>
<path d="M170 599h2v1h-2zM175 599h3v1h-3zM181 599h3v1h-3zM187 599h3v1h-3zM193 599h3v1h-3zM158 600h2v1h-2zM163 600h3v1h-3zM169 600h1v1h-1zM199 600h3v1h-3zM205 600h1v1h-1zM151 601h3v1h-3zM157 601h1v1h-1zM206 601h2v1h-2zM211 601h1v1h-1zM145 602h3v1h-3zM212 602h2v1h-2zM217 602h1v1h-1zM140 603h2v1h-2zM218 603h2v1h-2zM139 604h1v1h-1zM223 604h3v1h-3zM133 605h3v1h-3zM229 605h3v1h-3zM128 606h2v1h-2zM235 606h1v1h-1zM127 607h1v1h-1zM236 607h2v1h-2zM123 608h1v1h-1zM241 608h2v1h-2zM121 609h2v1h-2zM243 609h1v1h-1zM1291 609h3v1h-3zM1297 609h3v1h-3zM1303 609h3v1h-3zM247 610h3v1h-3zM1279 610h3v1h-3zM1285 610h3v1h-3zM1309 610h3v1h-3zM1315 610h3v1h-3zM1321 610h1v1h-1zM115 611h3v1h-3zM1274 611h2v1h-2zM1322 611h2v1h-2zM1327 611h3v1h-3zM253 612h3v1h-3zM1268 612h2v1h-2zM1273 612h1v1h-1zM110 613h2v1h-2zM1267 613h1v1h-1zM109 614h1v1h-1zM259 614h3v1h-3zM1261 614h3v1h-3zM1256 615h2v1h-2zM103 616h3v1h-3zM265 616h2v1h-2zM1255 616h1v1h-1zM267 617h1v1h-1zM1249 617h3v1h-3zM99 618h1v1h-1zM271 618h1v1h-1zM97 619h2v1h-2zM272 619h2v1h-2zM1243 619h3v1h-3zM277 620h1v1h-1zM93 621h1v1h-1zM278 621h2v1h-2zM1238 621h2v1h-2zM91 622h2v1h-2zM1237 622h1v1h-1zM283 623h3v1h-3zM1232 623h2v1h-2zM87 624h1v1h-1zM1231 624h1v1h-1zM85 625h2v1h-2zM289 625h2v1h-2zM291 626h1v1h-1zM1226 626h2v1h-2zM81 627h1v1h-1zM1225 627h1v1h-1zM79 628h2v1h-2zM295 628h3v1h-3zM1221 628h1v1h-1zM1219 629h2v1h-2zM75 630h1v1h-1zM301 630h1v1h-1zM73 631h2v1h-2zM302 631h2v1h-2zM1215 631h1v1h-1zM1213 632h2v1h-2zM69 633h1v1h-1zM307 633h2v1h-2zM67 634h2v1h-2zM309 634h1v1h-1zM313 635h1v1h-1zM1208 635h2v1h-2zM63 636h1v1h-1zM314 636h2v1h-2zM1207 636h1v1h-1zM61 637h2v1h-2zM319 638h1v1h-1zM1202 638h2v1h-2zM57 639h1v1h-1zM320 639h2v1h-2zM1201 639h1v1h-1zM55 640h2v1h-2zM325 640h1v1h-1zM326 641h2v1h-2zM1197 641h1v1h-1zM51 642h1v1h-1zM1195 642h2v1h-2zM49 643h2v1h-2zM331 643h3v1h-3zM45 645h1v1h-1zM337 645h3v1h-3zM1190 645h2v1h-2zM43 646h2v1h-2zM343 646h1v1h-1zM1189 646h1v1h-1zM344 647h2v1h-2zM349 648h3v1h-3zM1185 648h1v1h-1zM38 649h2v1h-2zM1183 649h2v1h-2zM37 650h1v1h-1zM355 650h3v1h-3zM1179 651h1v1h-1zM33 652h1v1h-1zM361 652h2v1h-2zM1177 652h2v1h-2zM31 653h2v1h-2zM363 653h1v1h-1zM367 654h1v1h-1zM1173 654h1v1h-1zM27 655h1v1h-1zM368 655h2v1h-2zM1171 655h2v1h-2zM25 656h2v1h-2zM373 656h1v1h-1zM374 657h2v1h-2zM1167 657h1v1h-1zM21 658h1v1h-1zM1165 658h2v1h-2zM19 659h2v1h-2zM379 659h3v1h-3zM15 661h1v1h-1zM385 661h2v1h-2zM1160 661h2v1h-2zM13 662h2v1h-2zM387 662h1v1h-1zM1159 662h1v1h-1zM391 663h3v1h-3zM9 664h1v1h-1zM1154 664h2v1h-2zM7 665h2v1h-2zM397 665h3v1h-3zM1153 665h1v1h-1zM3 667h1v1h-1zM403 667h3v1h-3zM1149 667h1v1h-1zM1 668h2v1h-2zM1147 668h2v1h-2zM409 669h2v1h-2zM411 670h1v1h-1zM415 671h1v1h-1zM1142 671h2v1h-2zM416 672h2v1h-2zM1141 672h1v1h-1zM421 673h1v1h-1zM422 674h2v1h-2zM1136 674h2v1h-2zM427 675h2v1h-2zM1135 675h1v1h-1zM429 676h1v1h-1zM433 677h2v1h-2zM1130 677h2v1h-2zM435 678h1v1h-1zM1129 678h1v1h-1zM1125 679h1v1h-1zM439 680h3v1h-3zM1123 680h2v1h-2zM445 682h1v1h-1zM1119 682h1v1h-1zM446 683h2v1h-2zM1117 683h2v1h-2zM451 685h3v1h-3zM1113 685h1v1h-1zM1111 686h2v1h-2zM457 687h2v1h-2zM459 688h1v1h-1zM1107 688h1v1h-1zM463 689h1v1h-1zM1105 689h2v1h-2zM464 690h2v1h-2zM469 691h1v1h-1zM1099 691h3v1h-3zM470 692h2v1h-2zM475 693h2v1h-2zM1094 693h2v1h-2zM477 694h1v1h-1zM1093 694h1v1h-1zM481 695h3v1h-3zM1088 695h2v1h-2zM487 696h1v1h-1zM1087 696h1v1h-1zM488 697h2v1h-2zM493 698h3v1h-3zM1082 698h2v1h-2zM1081 699h1v1h-1zM499 700h3v1h-3zM1077 700h1v1h-1zM1075 701h2v1h-2zM505 702h2v1h-2zM507 703h1v1h-1zM1069 703h3v1h-3zM511 704h1v1h-1zM1064 704h2v1h-2zM512 705h2v1h-2zM1063 705h1v1h-1zM517 706h3v1h-3zM1057 706h3v1h-3zM523 707h3v1h-3zM529 708h3v1h-3zM1051 708h3v1h-3zM535 709h3v1h-3zM541 709h1v1h-1zM542 710h2v1h-2zM547 710h3v1h-3zM1046 710h2v1h-2zM553 711h3v1h-3zM1045 711h1v1h-1zM559 712h3v1h-3zM565 712h3v1h-3zM1040 712h2v1h-2zM571 713h3v1h-3zM577 713h3v1h-3zM583 713h3v1h-3zM589 713h3v1h-3zM595 713h3v1h-3zM601 713h1v1h-1zM1039 713h1v1h-1zM602 714h2v1h-2zM607 714h3v1h-3zM613 714h3v1h-3zM1033 714h3v1h-3zM619 715h3v1h-3zM625 715h3v1h-3zM1028 715h2v1h-2zM631 716h3v1h-3zM637 716h1v1h-1zM1027 716h1v1h-1zM638 717h2v1h-2zM643 717h3v1h-3zM1022 717h2v1h-2zM649 718h3v1h-3zM1021 718h1v1h-1zM655 719h3v1h-3zM661 719h3v1h-3zM1016 719h2v1h-2zM667 720h3v1h-3zM673 720h3v1h-3zM1015 720h1v1h-1zM679 721h1v1h-1zM1011 721h1v1h-1zM680 722h2v1h-2zM1009 722h2v1h-2zM685 723h3v1h-3zM691 724h3v1h-3zM1003 724h3v1h-3zM697 725h3v1h-3zM703 726h3v1h-3zM709 726h1v1h-1zM998 726h2v1h-2zM710 727h2v1h-2zM715 727h3v1h-3zM997 727h1v1h-1zM721 728h3v1h-3zM992 728h2v1h-2zM727 729h3v1h-3zM733 729h1v1h-1zM991 729h1v1h-1zM734 730h2v1h-2zM739 730h3v1h-3zM987 730h1v1h-1zM745 731h3v1h-3zM985 731h2v1h-2zM751 732h3v1h-3zM757 732h3v1h-3zM763 733h3v1h-3zM769 733h3v1h-3zM979 733h3v1h-3zM775 734h3v1h-3zM781 734h1v1h-1zM782 735h2v1h-2zM787 735h3v1h-3zM973 735h3v1h-3zM793 736h3v1h-3zM799 737h3v1h-3zM805 737h1v1h-1zM967 737h3v1h-3zM806 738h2v1h-2zM811 738h3v1h-3zM963 738h1v1h-1zM817 739h3v1h-3zM961 739h2v1h-2zM823 740h3v1h-3zM829 740h1v1h-1zM957 740h1v1h-1zM830 741h2v1h-2zM835 741h3v1h-3zM955 741h2v1h-2zM841 742h3v1h-3zM950 742h2v1h-2zM847 743h3v1h-3zM949 743h1v1h-1zM853 744h3v1h-3zM943 744h3v1h-3zM859 745h3v1h-3zM938 745h2v1h-2zM865 746h3v1h-3zM871 746h3v1h-3zM932 746h2v1h-2zM937 746h1v1h-1zM877 747h3v1h-3zM883 747h3v1h-3zM889 747h1v1h-1zM925 747h3v1h-3zM931 747h1v1h-1zM890 748h2v1h-2zM895 748h3v1h-3zM901 748h3v1h-3zM907 748h3v1h-3zM913 748h3v1h-3zM919 748h3v1h-3z" fill="#ff0000" shape-rendering="crispEdges"/>
<text x="5.6" y="595.8" font-size="9.4px" fill="#000" textLength="127.2" lengthAdjust="spacingAndGlyphs">MACD(12,26,9) 0.1789 0.2345</text>
<rect x="1629" y="665" width="3" height="1" fill="#000" shape-rendering="crispEdges"/>
<text class="ax" x="1632" y="593.5">0.351</text>
<text class="ax" x="1632" y="669">0.00</text>
<text class="ax" x="1631.5" y="763">-0.4389</text>
<line x1="2" y1="801.5" x2="1628" y2="801.5" stroke="#c0c0c0" stroke-width="1" stroke-dasharray="3 3" shape-rendering="crispEdges"/>
<line x1="2" y1="848.5" x2="1628" y2="848.5" stroke="#c0c0c0" stroke-width="1" stroke-dasharray="3 3" shape-rendering="crispEdges"/>
<line x1="2" y1="904.5" x2="1628" y2="904.5" stroke="#c0c0c0" stroke-width="1" stroke-dasharray="3 3" shape-rendering="crispEdges"/>
<path d="M96 814h19v1h-19zM92 815h4v1h-4zM115 815h3v1h-3zM88 816h4v1h-4zM118 816h2v1h-2zM1248 816h2v1h-2zM1 817h5v1h-5zM84 817h4v1h-4zM120 817h3v1h-3zM1245 817h3v1h-3zM1250 817h1v1h-1zM6 818h8v1h-8zM26 818h28v1h-28zM78 818h6v1h-6zM123 818h3v1h-3zM1150 818h8v1h-8zM1182 818h4v1h-4zM1242 818h3v1h-3zM1251 818h1v1h-1zM14 819h12v1h-12zM54 819h8v1h-8zM70 819h8v1h-8zM126 819h2v1h-2zM1142 819h8v1h-8zM1158 819h8v1h-8zM1174 819h8v1h-8zM1186 819h2v1h-2zM1238 819h4v1h-4zM1252 819h1v1h-1zM62 820h8v1h-8zM128 820h6v1h-6zM1136 820h6v1h-6zM1166 820h8v1h-8zM1188 820h2v1h-2zM1235 820h3v1h-3zM1253 820h1v1h-1zM134 821h8v1h-8zM1132 821h4v1h-4zM1190 821h1v1h-1zM1232 821h3v1h-3zM1254 821h1v1h-1zM142 822h5v1h-5zM1128 822h4v1h-4zM1191 822h2v1h-2zM1229 822h3v1h-3zM1255 822h1v1h-1zM147 823h2v1h-2zM1124 823h4v1h-4zM1193 823h1v1h-1zM1226 823h3v1h-3zM1256 823h1v1h-1zM149 824h2v1h-2zM1103 824h21v1h-21zM1194 824h2v1h-2zM1222 824h4v1h-4zM1257 824h1v1h-1zM151 825h3v1h-3zM1098 825h5v1h-5zM1196 825h2v1h-2zM1219 825h3v1h-3zM1258 825h1v1h-1zM154 826h2v1h-2zM1092 826h6v1h-6zM1198 826h1v1h-1zM1214 826h5v1h-5zM1259 826h1v1h-1zM156 827h2v1h-2zM1089 827h3v1h-3zM1199 827h2v1h-2zM1206 827h8v1h-8zM1260 827h1v1h-1zM158 828h2v1h-2zM1088 828h1v1h-1zM1201 828h5v1h-5zM1261 828h1v1h-1zM160 829h2v1h-2zM1086 829h2v1h-2zM1262 829h1v1h-1zM162 830h2v1h-2zM1085 830h1v1h-1zM1263 830h1v1h-1zM164 831h1v1h-1zM193 831h1v1h-1zM1084 831h1v1h-1zM1264 831h1v1h-1zM165 832h2v1h-2zM191 832h2v1h-2zM194 832h1v2h-1zM1082 832h2v1h-2zM1265 832h1v1h-1zM167 833h1v1h-1zM189 833h2v1h-2zM1081 833h1v1h-1zM1266 833h1v1h-1zM168 834h2v1h-2zM187 834h2v1h-2zM195 834h1v1h-1zM1080 834h1v1h-1zM1267 834h1v1h-1zM170 835h1v1h-1zM186 835h1v1h-1zM196 835h1v2h-1zM1078 835h2v1h-2zM1268 835h1v1h-1zM171 836h1v1h-1zM184 836h2v1h-2zM1077 836h1v1h-1zM1269 836h1v1h-1zM172 837h2v1h-2zM182 837h2v1h-2zM197 837h1v1h-1zM1076 837h1v1h-1zM1270 837h1v1h-1zM174 838h1v1h-1zM180 838h2v1h-2zM198 838h1v1h-1zM1074 838h2v1h-2zM1271 838h1v1h-1zM175 839h2v1h-2zM178 839h2v1h-2zM199 839h1v2h-1zM1073 839h1v1h-1zM1272 839h2v1h-2zM177 840h1v1h-1zM1072 840h1v2h-1zM1274 840h1v1h-1zM200 841h1v1h-1zM1275 841h1v1h-1zM1296 841h26v1h-26zM201 842h1v2h-1zM1071 842h1v1h-1zM1276 842h1v1h-1zM1294 842h2v1h-2zM1322 842h8v1h-8zM1070 843h1v2h-1zM1277 843h1v1h-1zM1291 843h3v1h-3zM202 844h1v1h-1zM1278 844h1v1h-1zM1288 844h3v1h-3zM203 845h1v2h-1zM961 845h1v1h-1zM1069 845h1v1h-1zM1279 845h1v1h-1zM1286 845h2v1h-2zM960 846h1v1h-1zM962 846h2v1h-2zM1068 846h1v2h-1zM1280 846h1v1h-1zM1283 846h3v1h-3zM204 847h1v1h-1zM959 847h1v1h-1zM964 847h1v1h-1zM1281 847h2v1h-2zM205 848h1v1h-1zM287 848h3v1h-3zM958 848h1v1h-1zM965 848h2v1h-2zM1067 848h1v1h-1zM206 849h1v2h-1zM224 849h3v1h-3zM256 849h6v1h-6zM282 849h5v1h-5zM290 849h2v1h-2zM321 849h3v1h-3zM957 849h1v1h-1zM967 849h1v1h-1zM1066 849h1v2h-1zM221 850h3v1h-3zM227 850h3v1h-3zM254 850h2v1h-2zM262 850h8v1h-8zM276 850h6v1h-6zM292 850h1v1h-1zM319 850h2v1h-2zM324 850h4v1h-4zM956 850h1v1h-1zM968 850h2v1h-2zM1002 850h10v1h-10zM207 851h1v1h-1zM218 851h3v1h-3zM230 851h2v1h-2zM251 851h3v1h-3zM270 851h6v1h-6zM293 851h2v1h-2zM318 851h1v1h-1zM328 851h4v1h-4zM955 851h1v1h-1zM970 851h1v1h-1zM992 851h10v1h-10zM1012 851h6v1h-6zM1065 851h1v1h-1zM208 852h1v2h-1zM214 852h4v1h-4zM232 852h3v1h-3zM248 852h3v1h-3zM295 852h1v1h-1zM316 852h2v1h-2zM332 852h4v1h-4zM954 852h1v1h-1zM971 852h1v1h-1zM989 852h3v1h-3zM1018 852h5v1h-5zM1064 852h1v2h-1zM211 853h3v1h-3zM235 853h3v1h-3zM246 853h2v1h-2zM296 853h2v1h-2zM314 853h2v1h-2zM336 853h3v1h-3zM952 853h2v1h-2zM972 853h2v1h-2zM986 853h3v1h-3zM1023 853h7v1h-7zM209 854h2v1h-2zM238 854h2v1h-2zM243 854h3v1h-3zM298 854h1v1h-1zM313 854h1v1h-1zM339 854h2v1h-2zM593 854h1v1h-1zM951 854h1v1h-1zM974 854h1v1h-1zM982 854h4v1h-4zM1030 854h8v1h-8zM1063 854h1v1h-1zM240 855h3v1h-3zM299 855h1v1h-1zM311 855h2v1h-2zM341 855h2v1h-2zM592 855h1v2h-1zM594 855h1v2h-1zM950 855h1v1h-1zM975 855h2v1h-2zM979 855h3v1h-3zM1038 855h5v1h-5zM1062 855h1v2h-1zM300 856h2v1h-2zM310 856h1v1h-1zM343 856h3v1h-3zM949 856h1v1h-1zM977 856h2v1h-2zM1043 856h2v1h-2zM302 857h1v1h-1zM308 857h2v1h-2zM346 857h2v1h-2zM591 857h1v1h-1zM595 857h1v2h-1zM948 857h1v1h-1zM1045 857h2v1h-2zM1061 857h1v1h-1zM303 858h2v1h-2zM306 858h2v1h-2zM348 858h2v1h-2zM590 858h1v1h-1zM947 858h1v1h-1zM1047 858h2v1h-2zM1060 858h1v2h-1zM305 859h1v1h-1zM350 859h2v1h-2zM589 859h1v2h-1zM596 859h1v2h-1zM946 859h1v1h-1zM1049 859h2v1h-2zM352 860h3v1h-3zM945 860h1v1h-1zM1051 860h2v1h-2zM1059 860h1v1h-1zM355 861h3v1h-3zM588 861h1v1h-1zM597 861h1v1h-1zM943 861h2v1h-2zM1053 861h2v1h-2zM1058 861h1v2h-1zM358 862h2v1h-2zM587 862h1v1h-1zM598 862h1v2h-1zM941 862h2v1h-2zM1055 862h2v1h-2zM360 863h3v1h-3zM586 863h1v2h-1zM939 863h2v1h-2zM1057 863h1v1h-1zM363 864h3v1h-3zM599 864h1v2h-1zM896 864h10v1h-10zM938 864h1v1h-1zM366 865h2v1h-2zM585 865h1v1h-1zM894 865h2v1h-2zM906 865h10v1h-10zM936 865h2v1h-2zM368 866h4v1h-4zM584 866h1v2h-1zM600 866h1v2h-1zM891 866h3v1h-3zM916 866h4v1h-4zM934 866h2v1h-2zM372 867h6v1h-6zM888 867h3v1h-3zM920 867h4v1h-4zM932 867h2v1h-2zM378 868h5v1h-5zM583 868h1v1h-1zM601 868h1v1h-1zM886 868h2v1h-2zM924 868h4v1h-4zM930 868h2v1h-2zM383 869h7v1h-7zM582 869h1v1h-1zM602 869h1v2h-1zM689 869h3v1h-3zM883 869h3v1h-3zM928 869h2v1h-2zM390 870h8v1h-8zM478 870h6v1h-6zM581 870h1v2h-1zM688 870h1v1h-1zM692 870h6v1h-6zM718 870h6v1h-6zM880 870h3v1h-3zM398 871h5v1h-5zM470 871h8v1h-8zM484 871h6v1h-6zM603 871h1v2h-1zM687 871h1v1h-1zM698 871h5v1h-5zM710 871h8v1h-8zM724 871h6v1h-6zM876 871h4v1h-4zM403 872h3v1h-3zM448 872h22v1h-22zM490 872h5v1h-5zM580 872h1v1h-1zM686 872h1v1h-1zM703 872h7v1h-7zM730 872h5v1h-5zM872 872h4v1h-4zM406 873h2v1h-2zM445 873h3v1h-3zM495 873h11v1h-11zM579 873h1v1h-1zM604 873h1v2h-1zM685 873h1v2h-1zM735 873h4v1h-4zM868 873h4v1h-4zM408 874h3v1h-3zM442 874h3v1h-3zM506 874h16v1h-16zM578 874h1v2h-1zM739 874h3v1h-3zM864 874h4v1h-4zM411 875h3v1h-3zM438 875h4v1h-4zM522 875h32v1h-32zM605 875h1v1h-1zM684 875h1v1h-1zM742 875h4v1h-4zM861 875h3v1h-3zM414 876h2v1h-2zM435 876h3v1h-3zM554 876h24v1h-24zM606 876h1v2h-1zM683 876h1v1h-1zM746 876h3v1h-3zM858 876h3v1h-3zM416 877h19v1h-19zM682 877h1v1h-1zM749 877h3v1h-3zM854 877h4v1h-4zM607 878h1v2h-1zM681 878h1v1h-1zM752 878h3v1h-3zM851 878h3v1h-3zM680 879h1v1h-1zM755 879h2v1h-2zM849 879h2v1h-2zM608 880h1v2h-1zM679 880h1v1h-1zM757 880h2v1h-2zM848 880h1v1h-1zM678 881h1v1h-1zM759 881h3v1h-3zM847 881h1v1h-1zM609 882h9v1h-9zM677 882h1v2h-1zM762 882h2v1h-2zM846 882h1v1h-1zM618 883h26v1h-26zM764 883h2v1h-2zM845 883h1v1h-1zM644 884h4v1h-4zM676 884h1v1h-1zM766 884h2v1h-2zM844 884h1v1h-1zM648 885h4v1h-4zM675 885h1v1h-1zM768 885h3v1h-3zM843 885h1v1h-1zM652 886h4v1h-4zM674 886h1v1h-1zM771 886h3v1h-3zM842 886h1v1h-1zM656 887h18v1h-18zM774 887h2v1h-2zM840 887h2v1h-2zM776 888h3v1h-3zM839 888h1v1h-1zM779 889h3v1h-3zM838 889h1v1h-1zM782 890h2v1h-2zM837 890h1v1h-1zM784 891h36v1h-36zM836 891h1v1h-1zM820 892h6v1h-6zM835 892h1v1h-1zM826 893h5v1h-5zM834 893h1v1h-1zM831 894h3v1h-3z" fill="#1e90ff" shape-rendering="crispEdges"/>
<text x="5.2" y="780.4" font-size="9.4px" fill="#000" textLength="67.3" lengthAdjust="spacingAndGlyphs">RSI(14) 54.0631</text>
<text class="ax" x="1632.5" y="778.6">100</text>
<text class="ax" x="1632.5" y="804.9">80</text>
<text class="ax" x="1632.5" y="851.8">50</text>
<text class="ax" x="1632.5" y="907.9">15</text>
<text class="ax" x="1632.5" y="924.9">0</text>
<g shape-rendering="crispEdges">
<rect x="1" y="929" width="1" height="3" fill="#000"/>
<rect x="65" y="929" width="1" height="3" fill="#000"/>
<rect x="129" y="929" width="1" height="3" fill="#000"/>
<rect x="193" y="929" width="1" height="3" fill="#000"/>
<rect x="257" y="929" width="1" height="3" fill="#000"/>
<rect x="321" y="929" width="1" height="3" fill="#000"/>
<rect x="385" y="929" width="1" height="3" fill="#000"/>
<rect x="449" y="929" width="1" height="3" fill="#000"/>
<rect x="513" y="929" width="1" height="3" fill="#000"/>
<rect x="577" y="929" width="1" height="3" fill="#000"/>
<rect x="641" y="929" width="1" height="3" fill="#000"/>
<rect x="705" y="929" width="1" height="3" fill="#000"/>
<rect x="769" y="929" width="1" height="3" fill="#000"/>
<rect x="833" y="929" width="1" height="3" fill="#000"/>
<rect x="897" y="929" width="1" height="3" fill="#000"/>
<rect x="961" y="929" width="1" height="3" fill="#000"/>
<rect x="1025" y="929" width="1" height="3" fill="#000"/>
<rect x="1089" y="929" width="1" height="3" fill="#000"/>
<rect x="1153" y="929" width="1" height="3" fill="#000"/>
<rect x="1217" y="929" width="1" height="3" fill="#000"/>
<rect x="1281" y="929" width="1" height="3" fill="#000"/>
</g>
<text class="ax" x="1" y="940.1" font-size="9.5px" textLength="50.2" lengthAdjust="spacingAndGlyphs">12 Apr 2019</text>
<text class="ax" x="64.6" y="940.1" font-size="9.5px" textLength="53.3" lengthAdjust="spacingAndGlyphs">15 Apr 00:00</text>
<text class="ax" x="128.6" y="940.1" font-size="9.5px" textLength="53.3" lengthAdjust="spacingAndGlyphs">15 Apr 16:00</text>
<text class="ax" x="192.6" y="940.1" font-size="9.5px" textLength="53.3" lengthAdjust="spacingAndGlyphs">16 Apr 08:00</text>
<text class="ax" x="256.6" y="940.1" font-size="9.5px" textLength="53.3" lengthAdjust="spacingAndGlyphs">17 Apr 00:00</text>
<text class="ax" x="320.6" y="940.1" font-size="9.5px" textLength="53.3" lengthAdjust="spacingAndGlyphs">17 Apr 16:00</text>
<text class="ax" x="384.6" y="940.1" font-size="9.5px" textLength="53.3" lengthAdjust="spacingAndGlyphs">18 Apr 08:00</text>
<text class="ax" x="448.6" y="940.1" font-size="9.5px" textLength="53.3" lengthAdjust="spacingAndGlyphs">21 Apr 23:00</text>
<text class="ax" x="512.6" y="940.1" font-size="9.5px" textLength="53.3" lengthAdjust="spacingAndGlyphs">22 Apr 12:00</text>
<text class="ax" x="576.6" y="940.1" font-size="9.5px" textLength="53.3" lengthAdjust="spacingAndGlyphs">23 Apr 04:00</text>
<text class="ax" x="640.6" y="940.1" font-size="9.5px" textLength="53.3" lengthAdjust="spacingAndGlyphs">23 Apr 20:00</text>
<text class="ax" x="704.6" y="940.1" font-size="9.5px" textLength="53.3" lengthAdjust="spacingAndGlyphs">24 Apr 12:00</text>
<text class="ax" x="768.6" y="940.1" font-size="9.5px" textLength="53.3" lengthAdjust="spacingAndGlyphs">25 Apr 04:00</text>
<text class="ax" x="832.6" y="940.1" font-size="9.5px" textLength="53.3" lengthAdjust="spacingAndGlyphs">25 Apr 20:00</text>
<text class="ax" x="896.6" y="940.1" font-size="9.5px" textLength="53.3" lengthAdjust="spacingAndGlyphs">26 Apr 12:00</text>
<text class="ax" x="960.6" y="940.1" font-size="9.5px" textLength="53.3" lengthAdjust="spacingAndGlyphs">29 Apr 04:00</text>
<text class="ax" x="1024.6" y="940.1" font-size="9.5px" textLength="53.3" lengthAdjust="spacingAndGlyphs">29 Apr 20:00</text>
<text class="ax" x="1088.6" y="940.1" font-size="9.5px" textLength="53.3" lengthAdjust="spacingAndGlyphs">30 Apr 12:00</text>
<text class="ax" x="1152.6" y="940.1" font-size="9.5px" textLength="52.7" lengthAdjust="spacingAndGlyphs">1 May 04:00</text>
<text class="ax" x="1216.6" y="940.1" font-size="9.5px" textLength="52.7" lengthAdjust="spacingAndGlyphs">1 May 20:00</text>
<text class="ax" x="1280.6" y="940.1" font-size="9.5px" textLength="52.7" lengthAdjust="spacingAndGlyphs">2 May 12:00</text>
<defs>
<linearGradient id="gPlus" x1="0" y1="0" x2="1" y2="1"><stop offset="0" stop-color="#7dff7d"/><stop offset="1" stop-color="#12b812"/></linearGradient>
<linearGradient id="gGold" x1="0" y1="0" x2="1" y2="1"><stop offset="0" stop-color="#f7d648"/><stop offset="0.6" stop-color="#e8b010"/><stop offset="1" stop-color="#c88a10"/></linearGradient>
<linearGradient id="gCloud" x1="0" y1="0" x2="0" y2="1"><stop offset="0" stop-color="#ffffff"/><stop offset="1" stop-color="#b8c6de"/></linearGradient>
<linearGradient id="gLens" x1="0" y1="0" x2="0" y2="1"><stop offset="0" stop-color="#c4e8f8"/><stop offset="1" stop-color="#e8f8ff"/></linearGradient>
<linearGradient id="gCandle" x1="0" y1="0" x2="1" y2="0"><stop offset="0" stop-color="#48e048"/><stop offset="0.5" stop-color="#98ff98"/><stop offset="1" stop-color="#38d038"/></linearGradient>
<radialGradient id="gSig" cx="0" cy="0" r="1"><stop offset="0" stop-color="#1faa1f"/><stop offset="1" stop-color="#bfe8bf"/></radialGradient>
<pattern id="chk" width="2" height="2" patternUnits="userSpaceOnUse"><rect width="2" height="2" fill="#f6f6f6"/><rect width="1" height="1" fill="#fff"/><rect x="1" y="1" width="1" height="1" fill="#fff"/></pattern>
</defs>
<path d="M0 4.5 H7.2 L10.3 7.6 V17.6 H0 Z" fill="#fff" stroke="#7a7a7a" stroke-width="1"/>
<path d="M7.2 4.5 V7.6 H10.3" fill="#e8e8e8" stroke="#7a7a7a" stroke-width="0.8"/>
<g fill="#9a9a9a"><rect x="1" y="6.3" width="2.8" height="1.4"/><rect x="1" y="10" width="5.5" height="0.9"/><rect x="1" y="12" width="5" height="0.9"/><rect x="1" y="14" width="2.5" height="0.9"/></g>
<path d="M7.3 10.3 H10.9 V14.3 H14.9 V17.9 H10.9 V21.9 H7.3 V17.9 H3.2 V14.3 H7.3 Z" fill="url(#gPlus)" stroke="#0e8a0e" stroke-width="1" stroke-linejoin="round"/>
<text x="17.60" y="14.70" font-size="12.1px" fill="#000" style="font-family:'Liberation Sans','Noto Sans CJK SC',sans-serif">新订单</text>
<path d="M66.2 13.5 L73.8 18.1 L81.9 12.3 L82 14 L73.8 20 L66.1 15.1 Z" fill="#c08a18" stroke="#9a6410" stroke-width="0.7" stroke-linejoin="round"/>
<path d="M71.9 5.2 L81.8 12.2 L73.8 18 L66.3 13.4 Q69.4 10.4 71.9 5.2 Z" fill="url(#gGold)" stroke="#a86a10" stroke-width="0.9" stroke-linejoin="round"/>
<path d="M74.6 19 L81.7 13.8" fill="none" stroke="#f2e4a8" stroke-width="0.8"/>
<path d="M70.6 9.6 L77.6 14.4" fill="none" stroke="#fbe88a" stroke-width="1.6" opacity="0.55"/>
<path d="M96.2 5 L99.5 4.2 H106.9 V13 H96.2 Z" fill="#1c96f4" stroke="#1a80e0" stroke-width="0.6"/>
<path d="M96.6 5.4 L99.4 7 V13" fill="none" stroke="#e6f4ff" stroke-width="0.8"/>
<path d="M99.6 6.6 H106.6 V12.6 H99.6Z" fill="#2aa2ff"/>
<rect x="101.2" y="8.7" width="4.7" height="1" fill="#eaf6ff"/>
<path d="M97 19.4 Q94.2 19.2 94.3 16.9 Q94.5 14.7 96.9 14.8 Q97.6 12.4 100.4 12.9 Q102.6 11.4 104.6 13.6 Q106.9 12.7 108 14.8 Q110.2 15.2 109.9 17.5 Q109.6 19.5 107.4 19.4 Z" fill="url(#gCloud)" stroke="#4d6ea8" stroke-width="0.9"/>
<path d="M130 11.8 L138 11.8 A8 8 0 0 1 130 19.8 Z" fill="url(#gSig)" opacity="0.75"/>
<path d="M130 11.8 L137.6 9 A8 8 0 0 0 130 3.8 Z" fill="#cfe6cf" opacity="0.5"/>
<circle cx="130" cy="11.8" r="7.7" fill="none" stroke="#3a6fd8" stroke-width="0.9" opacity="0.9" stroke-dasharray="20.0 28.5" stroke-dashoffset="-12.5"/>
<circle cx="130" cy="11.8" r="7.7" fill="none" stroke="#5a9a7a" stroke-width="0.9" opacity="0.55" stroke-dasharray="22.3 26.2" stroke-dashoffset="11.9"/>
<circle cx="130" cy="11.8" r="5.2" fill="none" stroke="#3a6fd8" stroke-width="0.9" opacity="0.8" stroke-dasharray="13.5 19.2" stroke-dashoffset="-8.4"/>
<circle cx="130" cy="11.8" r="5.2" fill="none" stroke="#5a9a7a" stroke-width="0.9" opacity="0.55" stroke-dasharray="15.1 17.7" stroke-dashoffset="8.1"/>
<circle cx="130" cy="11.8" r="2.9" fill="none" stroke="#3a6fd8" stroke-width="0.9" opacity="0.7" stroke-dasharray="7.5 10.7" stroke-dashoffset="-4.7"/>
<circle cx="130" cy="11.8" r="2.9" fill="none" stroke="#5a9a7a" stroke-width="0.9" opacity="0.55" stroke-dasharray="8.4 9.9" stroke-dashoffset="4.5"/>
<circle cx="130" cy="11.6" r="1.7" fill="#2255d0"/>
<rect x="129.8" y="12" width="1.2" height="7.8" fill="#18a018"/>
<path d="M149.6 10.6 L164.8 10.6 L158.4 19.6 L156.6 19.6 Z" fill="#f7dc3c" stroke="#c8a018" stroke-width="0.8" stroke-linejoin="round"/>
<path d="M149.2 9 Q149 6.6 152.4 7.6 Q153.6 3.6 157.2 4.1 Q160.8 3.6 162 7.6 Q165.6 6.4 165.1 9 Q161 11.8 157.2 11.4 Q153 11.8 149.2 9 Z" fill="#4aa6dc" stroke="#1a7aa8" stroke-width="0.8"/>
<path d="M153.4 7.4 Q157.2 5.2 161 7.4" fill="none" stroke="#9ad4f2" stroke-width="1.2"/>
<circle cx="161.4" cy="15.8" r="4.1" fill="#e01c00" stroke="#b01000" stroke-width="0.6"/>
<rect x="160" y="14.4" width="2.9" height="2.9" fill="#fff"/>
<text x="170.30" y="15.10" font-size="12.1px" fill="#000" style="font-family:'Liberation Sans','Noto Sans CJK SC',sans-serif">自动交易</text>
<rect x="225" y="0" width="1" height="24" fill="#9a9a9a" shape-rendering="crispEdges"/>
<rect x="226" y="0" width="1" height="24" fill="#fafafa" shape-rendering="crispEdges"/>
<g shape-rendering="crispEdges" fill="#b4b4b4">
<rect x="229" y="2" width="3" height="1"/>
<rect x="229" y="4" width="3" height="1"/>
<rect x="229" y="6" width="3" height="1"/>
<rect x="229" y="8" width="3" height="1"/>
<rect x="229" y="10" width="3" height="1"/>
<rect x="229" y="12" width="3" height="1"/>
<rect x="229" y="14" width="3" height="1"/>
<rect x="229" y="16" width="3" height="1"/>
<rect x="229" y="18" width="3" height="1"/>
<rect x="229" y="20" width="3" height="1"/>
</g>
<rect x="320" y="1.5" width="1" height="20.5" fill="#9a9a9a" shape-rendering="crispEdges"/>
<rect x="410" y="1.5" width="1" height="20.5" fill="#9a9a9a" shape-rendering="crispEdges"/>
<rect x="472" y="1.5" width="1" height="20.5" fill="#9a9a9a" shape-rendering="crispEdges"/>
<rect x="593" y="0" width="1" height="24" fill="#9a9a9a" shape-rendering="crispEdges"/>
<rect x="594" y="0" width="1" height="24" fill="#fafafa" shape-rendering="crispEdges"/>
<g shape-rendering="crispEdges" fill="#b4b4b4">
<rect x="597" y="2" width="3" height="1"/>
<rect x="597" y="4" width="3" height="1"/>
<rect x="597" y="6" width="3" height="1"/>
<rect x="597" y="8" width="3" height="1"/>
<rect x="597" y="10" width="3" height="1"/>
<rect x="597" y="12" width="3" height="1"/>
<rect x="597" y="14" width="3" height="1"/>
<rect x="597" y="16" width="3" height="1"/>
<rect x="597" y="18" width="3" height="1"/>
<rect x="597" y="20" width="3" height="1"/>
</g>
<rect x="660" y="1.5" width="1" height="20.5" fill="#9a9a9a" shape-rendering="crispEdges"/>
<rect x="899" y="0" width="1" height="24" fill="#9a9a9a" shape-rendering="crispEdges"/>
<rect x="900" y="0" width="1" height="24" fill="#fafafa" shape-rendering="crispEdges"/>
<g shape-rendering="crispEdges" fill="#b4b4b4">
<rect x="903" y="2" width="3" height="1"/>
<rect x="903" y="4" width="3" height="1"/>
<rect x="903" y="6" width="3" height="1"/>
<rect x="903" y="8" width="3" height="1"/>
<rect x="903" y="10" width="3" height="1"/>
<rect x="903" y="12" width="3" height="1"/>
<rect x="903" y="14" width="3" height="1"/>
<rect x="903" y="16" width="3" height="1"/>
<rect x="903" y="18" width="3" height="1"/>
<rect x="903" y="20" width="3" height="1"/>
</g>
<rect x="1160" y="0" width="1" height="24" fill="#9a9a9a" shape-rendering="crispEdges"/>
<rect x="1161" y="0" width="1" height="24" fill="#fafafa" shape-rendering="crispEdges"/>
<g shape-rendering="crispEdges"><rect x="263" y="0" width="25" height="22" fill="url(#chk)"/><rect x="263" y="0" width="25" height="1" fill="#9a9a9a"/><rect x="263" y="0" width="1" height="22" fill="#9a9a9a"/><rect x="288" y="0" width="1" height="22" fill="#fff"/><rect x="263" y="22" width="26" height="1" fill="#fff"/></g>
<g shape-rendering="crispEdges"><rect x="415" y="0" width="25" height="22" fill="url(#chk)"/><rect x="415" y="0" width="25" height="1" fill="#9a9a9a"/><rect x="415" y="0" width="1" height="22" fill="#9a9a9a"/><rect x="440" y="0" width="1" height="22" fill="#fff"/><rect x="415" y="22" width="26" height="1" fill="#fff"/></g>
<g shape-rendering="crispEdges"><rect x="443" y="0" width="25" height="22" fill="url(#chk)"/><rect x="443" y="0" width="25" height="1" fill="#9a9a9a"/><rect x="443" y="0" width="1" height="22" fill="#9a9a9a"/><rect x="468" y="0" width="1" height="22" fill="#fff"/><rect x="443" y="22" width="26" height="1" fill="#fff"/></g>
<g shape-rendering="crispEdges"><rect x="603" y="0" width="25" height="22" fill="url(#chk)"/><rect x="603" y="0" width="25" height="1" fill="#9a9a9a"/><rect x="603" y="0" width="1" height="22" fill="#9a9a9a"/><rect x="628" y="0" width="1" height="22" fill="#fff"/><rect x="603" y="22" width="26" height="1" fill="#fff"/></g>
<g shape-rendering="crispEdges"><rect x="1049" y="0" width="25" height="22" fill="url(#chk)"/><rect x="1049" y="0" width="25" height="1" fill="#9a9a9a"/><rect x="1049" y="0" width="1" height="22" fill="#9a9a9a"/><rect x="1074" y="0" width="1" height="22" fill="#fff"/><rect x="1049" y="22" width="26" height="1" fill="#fff"/></g>
<g stroke="#555" stroke-width="1.1" fill="none"><path d="M243.4 6.3 V19.6"/><path d="M241.1 17.5 H254.70000000000002"/><path d="M241.6 8.4 L243.4 6.2 L245.20000000000002 8.4"/><path d="M252.8 15.7 L254.9 17.5 L252.8 19.3"/></g>
<path d="M249.5 7.3 V15.9 M249.5 8.4 H252 M247.1 14.4 H249.5" stroke="#128a12" stroke-width="1.2" fill="none"/>
<g stroke="#555" stroke-width="1.1" fill="none"><path d="M271.5 6.3 V19.6"/><path d="M269.2 17.5 H282.8"/><path d="M269.7 8.4 L271.5 6.2 L273.3 8.4"/><path d="M280.9 15.7 L283.0 17.5 L280.9 19.3"/></g>
<path d="M277.5 4.3 V15.7" stroke="#0e8a0e" stroke-width="1.1"/>
<rect x="275.2" y="6.4" width="4.6" height="7.2" fill="url(#gCandle)" stroke="#0e8a0e" stroke-width="1"/>
<g stroke="#555" stroke-width="1.1" fill="none"><path d="M299.5 6.3 V19.6"/><path d="M297.2 17.5 H310.8"/><path d="M297.7 8.4 L299.5 6.2 L301.3 8.4"/><path d="M308.9 15.7 L311.0 17.5 L308.9 19.3"/></g>
<path d="M298.1 14.6 Q301.5 12.8 303 10.2 Q304.2 8.6 305.6 9.8 Q307.6 12 309.8 12.9" stroke="#2a9a2a" stroke-width="1.2" fill="none"/>
<path d="M338.79999999999995 13.9 L344.09999999999997 18.7" stroke="#b89010" stroke-width="3.4" stroke-linecap="butt"/>
<path d="M338.79999999999995 13.9 L344.09999999999997 18.7" stroke="#f0dc50" stroke-width="1.8" stroke-linecap="butt"/>
<circle cx="334.9" cy="9.9" r="5.5" fill="url(#gLens)" stroke="#2b78c5" stroke-width="1.2"/>
<rect x="331.59999999999997" y="9.1" width="6.6" height="1.7" fill="#4a8fb5"/>
<rect x="334.04999999999995" y="6.6" width="1.7" height="6.6" fill="#4a8fb5"/>
<path d="M367.0 13.9 L372.3 18.7" stroke="#b89010" stroke-width="3.4" stroke-linecap="butt"/>
<path d="M367.0 13.9 L372.3 18.7" stroke="#f0dc50" stroke-width="1.8" stroke-linecap="butt"/>
<circle cx="363.1" cy="9.9" r="5.5" fill="url(#gLens)" stroke="#2b78c5" stroke-width="1.2"/>
<rect x="359.8" y="9.1" width="6.6" height="1.7" fill="#4a8fb5"/>
<rect x="385" y="4" width="8" height="8" fill="#3aa822"/><rect x="385" y="4" width="8" height="2" fill="#2a8a16"/>
<rect x="386.2" y="7.3" width="5.6" height="3.6" fill="#fff"/><rect x="387.2" y="8.3" width="3.6" height="0.9" fill="#3aa822" opacity="0.5"/><rect x="386.2" y="4.8" width="1" height="0.9" fill="#fff" opacity="0.8"/>
<rect x="393" y="4" width="8" height="8" fill="#2a5ee0"/><rect x="393" y="4" width="8" height="2" fill="#0a30b8"/>
<rect x="394.2" y="7.3" width="5.6" height="3.6" fill="#fff"/><rect x="395.2" y="8.3" width="3.6" height="0.9" fill="#2a5ee0" opacity="0.5"/><rect x="394.2" y="4.8" width="1" height="0.9" fill="#fff" opacity="0.8"/>
<rect x="385" y="12" width="8" height="8" fill="#2a5ee0"/><rect x="385" y="12" width="8" height="2" fill="#0a30b8"/>
<rect x="386.2" y="15.3" width="5.6" height="3.6" fill="#fff"/><rect x="387.2" y="16.3" width="3.6" height="0.9" fill="#2a5ee0" opacity="0.5"/><rect x="386.2" y="12.8" width="1" height="0.9" fill="#fff" opacity="0.8"/>
<rect x="393" y="12" width="8" height="8" fill="#3aa822"/><rect x="393" y="12" width="8" height="2" fill="#2a8a16"/>
<rect x="394.2" y="15.3" width="5.6" height="3.6" fill="#fff"/><rect x="395.2" y="16.3" width="3.6" height="0.9" fill="#3aa822" opacity="0.5"/><rect x="394.2" y="12.8" width="1" height="0.9" fill="#fff" opacity="0.8"/>
<g stroke="#555" stroke-width="1.1" fill="none"><path d="M423.4 6.3 V19.6"/><path d="M421.09999999999997 17.5 H434.7"/><path d="M421.59999999999997 8.4 L423.4 6.2 L425.2 8.4"/><path d="M432.79999999999995 15.7 L434.9 17.5 L432.79999999999995 19.3"/></g>
<path d="M428.4 8.2 V14.8 L432 11.5 Z" fill="#a8f0a8" stroke="#1ea01e" stroke-width="1" stroke-linejoin="round"/>
<g stroke="#555" stroke-width="1.1" fill="none"><path d="M451.4 6.3 V19.6"/><path d="M449.09999999999997 17.5 H462.7"/><path d="M449.59999999999997 8.4 L451.4 6.2 L453.2 8.4"/><path d="M460.79999999999995 15.7 L462.9 17.5 L460.79999999999995 19.3"/></g>
<path d="M457.5 6.2 V15.9" stroke="#1a6ea8" stroke-width="1.2"/>
<path d="M463 11.4 H459" stroke="#e04800" stroke-width="1.1"/><path d="M458.1 11.4 L460.9 9 L460.3 11.4 L460.9 13.8 Z" fill="#e04800"/>
<path d="M482.5 5 H490.4 L493.5 8 V17.6 H482.5 Z" fill="#fff" stroke="#8a8a8a" stroke-width="0.9"/>
<path d="M490.4 5 V8 H493.5" fill="#eee" stroke="#8a8a8a" stroke-width="0.7"/>
<path d="M488.2 7.4 Q486 6.8 485.8 9 V14.5 Q485.7 16 484.4 15.6 M484.4 10.4 H487.6" stroke="#5a4a20" stroke-width="0.9" fill="none"/>
<path d="M490.2 10.6 H494.2 V14.3 H498 V18 H494.2 V21.8 H490.2 V18 H486.2 V14.3 H490.2 Z" fill="url(#gPlus)" stroke="#0e8a0e" stroke-width="1" stroke-linejoin="round"/>
<path d="M503.6 11 H509.4 L506.5 14.2 Z" fill="#000"/>
<path d="M542.6 11 H548.4 L545.5 14.2 Z" fill="#000"/>
<path d="M581.5 11 H587.3 L584.4 14.2 Z" fill="#000"/>
<path d="M887.5 10.8 H893.3 L890.4 14.0 Z" fill="#000"/>
<circle cx="528" cy="11.8" r="6.9" fill="#fdfdfd" stroke="#1464d8" stroke-width="2.1"/>
<circle cx="528" cy="11.8" r="7.8" fill="none" stroke="#0a3c9a" stroke-width="0.5"/>
<path d="M527.6 7.8 V12 H530.6" stroke="#333" stroke-width="1.1" fill="none"/>
<g fill="#b8b8b8"><rect x="527.6" y="6.2" width="0.8" height="1"/><rect x="527.6" y="16.4" width="0.8" height="1"/><rect x="522.4" y="11.4" width="1" height="0.8"/><rect x="532.6" y="11.4" width="1" height="0.8"/></g>
<rect x="527" y="14.3" width="2" height="0.7" fill="#7ab0ff"/>
<rect x="559.4" y="5.5" width="15.2" height="13.2" fill="#fff" stroke="#2e6ec8" stroke-width="1"/>
<rect x="559.9" y="5.9" width="14.2" height="2.1" fill="#3a86e0"/><rect x="560.6" y="6.2" width="6" height="0.8" fill="#bfe0ff"/>
<rect x="559.9" y="12.4" width="14.2" height="0.9" fill="#2e6ec8"/>
<path d="M561.6 11 H563.4 L565.2 10 H566.6 L567.6 9.2 L569 10 H570.6 L571.6 9.2 H572.8" stroke="#a03010" stroke-width="1.1" fill="none"/>
<path d="M562 16.4 L564.4 15.4 L566.2 16.4 L567.6 16 L570.2 14.2 L572.6 16.6" stroke="#108020" stroke-width="1.1" fill="none"/>
<path d="M611 4.8 V15.9 L613.5 13.8 L615.9 19.2 L617.8 18.4 L615.4 13 L619.1 12.6 Z" fill="#444"/>
<g shape-rendering="crispEdges" fill="#444"><rect x="636" y="12" width="6" height="1"/><rect x="645" y="12" width="6" height="1"/><rect x="643" y="5" width="1" height="6"/><rect x="643" y="14" width="1" height="6"/><rect x="643" y="12" width="1" height="1" fill="#8a8a6a"/></g>
<rect x="677" y="6" width="1.2" height="13" fill="#444"/>
<rect x="700" y="12" width="12" height="1.1" fill="#444"/>
<path d="M727.6 19 L740.1 6.8" stroke="#444" stroke-width="1.1"/>
<g stroke="#444" stroke-width="0.9" fill="none"><path d="M754 13.7 L762.2 6"/><path d="M758.8 19 L767.8 10.3"/><path d="M756 16.5 L757 12.8 L759 14.6 L760 10.4 L762 12.4 L763.2 8 L765.2 10 L766.2 4.4"/><path d="M756.4 15 L764.8 7"/></g>
<text x="764.6" y="20.9" font-size="6.6px" font-weight="bold" fill="#333">E</text>
<line x1="783" y1="5.5" x2="796" y2="5.5" stroke="#444" stroke-width="1" stroke-dasharray="1 1" shape-rendering="crispEdges"/>
<line x1="783" y1="8.5" x2="796" y2="8.5" stroke="#444" stroke-width="1" stroke-dasharray="1 1" shape-rendering="crispEdges"/>
<line x1="783" y1="12.5" x2="796" y2="12.5" stroke="#444" stroke-width="1" stroke-dasharray="1 1" shape-rendering="crispEdges"/>
<line x1="783" y1="17.0" x2="792" y2="17.0" stroke="#444" stroke-width="1" stroke-dasharray="1 1" shape-rendering="crispEdges"/>
<text x="792.8" y="20.9" font-size="6.6px" font-weight="bold" fill="#333">F</text>
<text x="817.6" y="17" font-size="12.6px" fill="#555" text-anchor="middle">A</text>
<rect x="840.5" y="6.5" width="11" height="12" fill="none" stroke="#444" stroke-width="1" stroke-dasharray="1 1" shape-rendering="crispEdges"/>
<rect x="839.4" y="5.3" width="1.8" height="1" fill="#444"/>
<path d="M842.6 9 H849.4 M846 9 V17.1" stroke="#555" stroke-width="1.5" fill="none"/>
<path d="M870.6 6 L874.2 9 L870.6 10.6 L867 9 Z" fill="#555"/>
<path d="M877.7 18.9 L874.1 15.9 L877.7 14.3 L881.3 15.9 Z" fill="#555"/>
<path d="M869.6 13 L871.6 15.2 L875.4 10.6" stroke="#555" stroke-width="1.3" fill="none"/>
<text class="tf" x="921.1" y="15.5" text-anchor="middle">M1</text>
<text class="tf" x="949" y="15.5" text-anchor="middle">M5</text>
<text class="tf" x="977.3" y="15.5" text-anchor="middle">M15</text>
<text class="tf" x="1005.4" y="15.5" text-anchor="middle">M30</text>
<text class="tf" x="1033.3" y="15.5" text-anchor="middle">H1</text>
<text class="tf" x="1061" y="15.5" text-anchor="middle">H4</text>
<text class="tf" x="1089.3" y="15.5" text-anchor="middle">D1</text>
<text class="tf" x="1118.2" y="15.5" text-anchor="middle">W1</text>
<text class="tf" x="1145" y="15.5" text-anchor="middle">MN</text>
<path d="M1627.6 12.4 L1622.8 17" stroke="#2a5ed0" stroke-width="2.2" stroke-linecap="round"/>
<circle cx="1630.5" cy="9.5" r="3.9" fill="#f4f4f8" stroke="#2a5ed0" stroke-width="1.3"/>
<ellipse cx="1663.3" cy="9" rx="6.3" ry="4.6" fill="#f2f2f6" stroke="#8a8a8a" stroke-width="0.9"/><path d="M1664.5 13 L1666.8 15.6 L1666.6 12.6 Z" fill="#8a8a8a"/>
<ellipse cx="1654.2" cy="13.2" rx="4.9" ry="3.7" fill="#ededf3" stroke="#8a8a8a" stroke-width="0.9"/><path d="M1651.2 15.8 L1650.8 18.8 L1653.6 16.6 Z" fill="#8a8a8a"/>
</svg></body></html>
